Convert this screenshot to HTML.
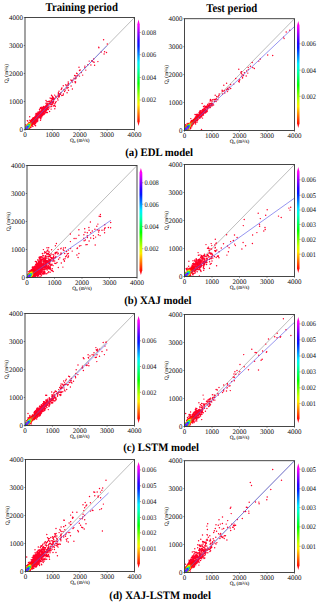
<!DOCTYPE html>
<html><head><meta charset="utf-8"><style>
html,body{margin:0;padding:0;background:#fff;width:320px;height:605px;overflow:hidden}
svg{display:block}
text{font-family:"Liberation Serif",serif;fill:#111;text-rendering:geometricPrecision}
.ti{font-weight:bold;font-size:11.3px;fill:#000}
.t1{font-size:12px}
.tk{font-size:7px;fill:#111;stroke:#111;stroke-width:0.03px}
.cb{font-size:7.1px;fill:#111;stroke:#111;stroke-width:0.03px}
.al{font-size:5.2px;fill:#000;stroke:#000;stroke-width:0.06px}
</style></head><body>
<svg width="320" height="605" viewBox="0 0 320 605">
<line x1="25.0" y1="129.5" x2="134.5" y2="17.5" stroke="#999" stroke-width="0.65"/><clipPath id="c1"><rect x="25.00" y="17.50" width="109.50" height="112.00"/></clipPath><g clip-path="url(#c1)" stroke-width="1.45" stroke-linecap="round" fill="none"><path stroke="#ff0029" d="M101.2 51.9h0M87.9 64.7h0M107.3 44.0h0M97.9 61.6h0M94.6 65.2h0M103.6 39.8h0M90.9 64.9h0M29.7 116.7h0M72.4 89.0h0M85.8 70.1h0M79.0 67.3h0M71.1 86.0h0M82.7 75.1h0M89.2 61.1h0M67.1 92.7h0M63.3 85.7h0M81.4 72.6h0M54.8 108.8h0M104.1 53.9h0M68.5 90.2h0M51.1 109.1h0M49.6 111.4h0M106.5 52.4h0M93.7 59.0h0M104.6 51.7h0M68.2 81.9h0M58.0 100.0h0M40.5 120.3h0M79.5 76.1h0M59.0 91.3h0M54.6 95.1h0M72.5 82.1h0M57.5 98.6h0M46.0 100.5h0M64.6 91.5h0M64.0 89.7h0M61.0 92.8h0M65.8 84.7h0M84.9 66.1h0M84.9 67.4h0M63.4 94.0h0M51.5 95.3h0M54.9 103.8h0M70.9 80.0h0M72.5 80.1h0M65.4 90.1h0M66.3 85.8h0M61.8 95.4h0M74.6 75.5h0M68.2 87.5h0M56.2 101.6h0M68.3 83.5h0M63.0 95.2h0M49.3 106.1h0M35.6 125.7h0M75.6 76.0h0M47.4 112.4h0M50.1 98.0h0M52.3 96.2h0M53.2 105.9h0M55.5 102.4h0M71.7 80.8h0M61.1 89.6h0M55.3 106.4h0M39.5 109.4h0M77.8 75.3h0M79.5 70.5h0M80.2 70.0h0M50.9 106.8h0M46.9 101.7h0M77.1 75.8h0M58.3 97.0h0M61.9 88.0h0M67.0 88.5h0M60.5 94.3h0M75.0 81.6h0M98.7 47.2h0M98.9 47.7h0M76.6 73.3h0M51.4 106.2h0M66.9 87.6h0M77.2 73.6h0M68.4 85.0h0M94.1 62.2h0M67.6 84.9h0M48.0 101.8h0M59.3 96.7h0M93.7 62.0h0M59.8 93.7h0M27.3 120.6h0M27.7 120.9h0M74.0 78.2h0M76.0 77.8h0M46.4 112.5h0M55.9 96.2h0M61.6 88.8h0M54.2 105.4h0M75.3 82.7h0M49.1 107.9h0M74.1 78.4h0M54.8 105.5h0M48.3 109.5h0M51.1 100.7h0M46.0 103.1h0M56.1 97.1h0M92.2 61.5h0M75.6 82.0h0M75.6 78.8h0M32.9 126.4h0M58.4 92.8h0M76.0 78.6h0M55.7 96.9h0M91.8 60.7h0M92.3 60.6h0M46.1 103.4h0M40.2 108.2h0M52.0 99.9h0M58.1 95.0h0M36.0 113.4h0M59.4 95.7h0M54.6 98.9h0M25.2 124.6h0M59.3 94.8h0M53.8 100.9h0M58.4 95.5h0M41.3 107.2h0M52.4 97.7h0M53.3 99.6h0M49.0 101.2h0M43.4 106.4h0M51.5 98.4h0M50.5 104.6h0M40.6 107.6h0M49.7 101.2h0M58.4 93.5h0M53.1 97.3h0M51.1 98.8h0M41.0 118.7h0M52.5 99.1h0M46.6 110.5h0M49.1 101.4h0M44.9 113.5h0M47.5 103.7h0M45.2 112.6h0M41.0 108.8h0M54.1 98.9h0M53.4 102.2h0M29.8 120.2h0M51.1 104.6h0M49.0 103.8h0M53.8 98.0h0M51.3 104.6h0M52.3 101.4h0M53.3 97.9h0M52.9 103.8h0M48.1 103.9h0M53.0 103.4h0M52.7 104.0h0M41.3 107.9h0M53.0 101.8h0M53.4 98.6h0M44.0 114.4h0M48.4 107.7h0M48.2 104.3h0M34.3 124.8h0M40.5 118.5h0M45.8 111.2h0M46.2 105.3h0M45.5 106.0h0M47.9 106.3h0M51.5 103.9h0M52.2 104.2h0M34.8 124.7h0M47.0 104.4h0M49.6 103.5h0M50.0 102.2h0M42.8 115.3h0M39.9 110.9h0M44.3 112.9h0M52.7 102.7h0M46.8 109.8h0M41.9 116.7h0M47.6 104.9h0M44.1 113.6h0M46.7 105.0h0M37.8 120.9h0M46.6 105.5h0M46.9 105.4h0M51.7 101.9h0M37.0 121.7h0M35.7 123.3h0M44.1 106.6h0M41.8 108.3h0M52.2 102.3h0M47.4 109.3h0M52.1 102.1h0M41.1 117.3h0M37.8 120.7h0M42.7 107.5h0M43.7 113.8h0M40.5 117.8h0M50.5 103.2h0M47.4 108.9h0M47.4 108.5h0M50.1 102.6h0M48.0 107.3h0M50.1 102.8h0M45.0 111.2h0M45.5 110.4h0M50.9 102.3h0M50.8 102.8h0M38.1 111.9h0M44.8 111.3h0M47.0 109.1h0M47.5 106.8h0M42.4 108.4h0M47.1 106.7h0M50.7 102.5h0M43.9 108.9h0M47.7 107.6h0M46.4 109.1h0M42.0 115.6h0M44.4 108.7h0M35.9 122.5h0M42.4 115.1h0M42.9 108.9h0M43.9 107.5h0M43.4 113.7h0M41.6 109.7h0M44.6 108.9h0M47.0 107.9h0M43.5 107.7h0M43.4 108.3h0M35.5 114.9h0M41.4 110.4h0M43.2 114.1h0M44.5 109.6h0M42.5 109.2h0M44.9 109.7h0M45.4 109.4h0M34.6 124.1h0M43.1 107.9h0M34.8 124.0h0M43.4 109.7h0M41.3 116.3h0M45.9 108.7h0M44.9 106.6h0M46.9 107.0h0M45.5 106.7h0M40.3 111.1h0M32.1 125.8h0M36.7 121.5h0M44.9 108.1h0M42.2 109.6h0M43.8 110.0h0M46.2 107.8h0M41.1 116.3h0M46.2 107.2h0M43.9 112.0h0M30.9 127.4h0M39.4 111.8h0M33.1 117.7h0M42.3 114.7h0M44.6 107.4h0M37.6 120.0h0M42.7 110.1h0M42.1 110.1h0M45.8 107.6h0M43.9 110.5h0M45.5 106.8h0M37.8 119.7h0M43.0 113.1h0M45.5 107.6h0M35.5 122.3h0M45.2 107.2h0M43.4 110.6h0M45.2 107.4h0M40.5 116.9h0M40.7 116.3h0M38.1 112.3h0M43.6 111.7h0M35.8 121.9h0M43.6 111.1h0M39.8 117.4h0M43.5 112.0h0M40.8 115.4h0M41.3 114.9h0M34.0 124.2h0M37.1 113.3h0M42.6 113.2h0M32.4 118.6h0M40.8 115.2h0M42.9 112.3h0M30.7 120.4h0M40.3 116.1h0M33.3 117.7h0M42.5 113.9h0M39.3 117.6h0M43.0 112.0h0M40.7 111.6h0M40.4 115.5h0M42.2 111.0h0M40.1 112.1h0M41.9 114.3h0M42.4 111.2h0M34.9 123.1h0M40.3 111.8h0M39.4 112.4h0M36.7 114.5h0M39.8 116.9h0M36.1 115.2h0M35.7 121.8h0M42.8 111.7h0M41.0 111.6h0M40.5 114.8h0M39.2 117.6h0M42.6 111.6h0M40.3 112.4h0M37.4 119.6h0M39.8 116.0h0M40.0 115.4h0M42.3 112.3h0M42.2 113.6h0M41.6 111.6h0M39.8 115.2h0M36.5 120.8h0M42.4 111.8h0M32.2 125.3h0M40.6 114.3h0M31.6 119.6h0M41.8 113.8h0M42.2 111.8h0M38.9 112.6h0M41.0 112.0h0M40.7 112.9h0M38.2 113.0h0M39.9 113.2h0M33.5 117.9h0M42.0 112.7h0M40.4 114.2h0M41.2 114.0h0M41.5 112.1h0M38.4 118.1h0M39.3 116.9h0M40.2 113.7h0M40.1 113.8h0M41.2 112.4h0M40.5 113.4h0M37.1 114.1h0M39.4 112.8h0M41.4 112.7h0M41.3 113.8h0M39.4 116.1h0M41.7 113.2h0M39.3 116.3h0M41.6 113.3h0M41.0 113.2h0M41.0 113.4h0M37.4 113.9h0M38.6 112.8h0M38.8 113.0h0M34.1 123.4h0M39.5 114.3h0M39.0 115.7h0M37.7 113.7h0M34.7 122.9h0M39.5 114.2h0M39.1 116.5h0M36.2 116.0h0M36.0 121.0h0M39.1 114.6h0M37.8 118.3h0M30.7 121.0h0M38.8 114.9h0M34.8 122.3h0M37.8 113.5h0M32.4 124.8h0M38.8 117.0h0M33.5 123.9h0M32.4 119.2h0M35.2 121.9h0M38.9 115.8h0M32.2 119.5h0M38.9 113.4h0M38.9 113.9h0M29.1 128.6h0M34.6 117.0h0M37.9 114.0h0M37.8 118.1h0M31.3 125.9h0M38.3 113.6h0M38.5 114.6h0M38.5 113.8h0M36.9 119.3h0M36.5 115.6h0M37.7 114.5h0M38.3 117.5h0M38.6 116.3h0M30.3 127.4h0M36.9 115.3h0M35.0 121.7h0M35.1 116.6h0M36.0 116.5h0M37.1 115.2h0M31.7 120.1h0M31.0 120.6h0M37.6 114.9h0M37.3 118.3h0M33.4 123.5h0M38.2 117.4h0M38.4 116.8h0M38.3 115.7h0M36.5 119.8h0M37.1 118.7h0M34.1 122.8h0M36.6 119.4h0M37.8 115.1h0M38.3 116.2h0M35.3 116.5h0M32.4 124.6h0M35.3 121.0h0M36.9 118.9h0M38.0 115.4h0M37.4 117.8h0M37.2 116.0h0M37.8 117.0h0M37.6 115.7h0M31.5 125.6h0M35.8 120.3h0M38.0 116.5h0M34.3 122.4h0M37.9 116.2h0M36.7 116.7h0M28.5 128.8h0M37.3 117.3h0M30.9 121.2h0M37.7 116.9h0M32.6 124.0h0M37.4 116.1h0M33.0 119.2h0M34.9 117.2h0M37.2 116.6h0M37.4 116.5h0M35.8 120.2h0M33.7 118.5h0M29.0 122.5h0M37.0 117.2h0M36.8 118.0h0M36.3 118.8h0M31.7 120.6h0M36.9 117.6h0M32.9 123.6h0M35.4 120.7h0M35.1 120.8h0M36.7 117.5h0M32.0 120.1h0M29.6 128.0h0M34.6 117.6h0M35.4 117.1h0M36.0 117.1h0M34.1 118.1h0M32.6 119.6h0M33.4 122.8h0M36.4 118.3h0M35.9 119.3h0M33.8 122.5h0M34.2 122.1h0M31.5 121.1h0M36.3 117.9h0M30.7 121.7h0M26.5 125.4h0M35.0 117.7h0M35.3 120.0h0M35.8 118.9h0M34.3 118.1h0M33.2 119.4h0M32.7 119.9h0M35.9 118.7h0M35.8 117.6h0M32.1 120.7h0M31.0 121.7h0M35.3 117.5h0M34.4 121.4h0"/><path stroke="#ff000e" d="M35.9 118.0h0M33.3 122.5h0M35.3 119.5h0M34.8 120.3h0M31.3 125.1h0M35.2 117.9h0M33.0 123.0h0M27.7 124.1h0M32.5 123.6h0M34.2 118.5h0M33.5 119.2h0M35.3 119.0h0M35.4 118.2h0M34.9 120.1h0M31.8 124.3h0M29.9 127.3h0M35.4 118.4h0M32.2 121.0h0M34.3 121.0h0M31.1 125.3h0M30.1 122.1h0M32.8 122.3h0M34.7 118.6h0M34.8 118.5h0M31.6 121.6h0M33.3 121.9h0M34.9 119.5h0M32.6 120.6h0M34.8 119.1h0M34.4 120.5h0M32.2 121.5h0M33.1 122.0h0M33.6 119.6h0M34.1 119.2h0M32.4 121.7h0M33.8 121.3h0M32.0 124.2h0M33.1 120.1h0M32.7 121.0h0M32.3 122.9h0M34.4 119.2h0M34.3 119.8h0M32.5 122.2h0M29.4 122.6h0M32.3 122.4h0M34.5 119.7h0M33.8 121.0h0M34.0 119.6h0M25.9 126.0h0M33.3 120.0h0M33.2 121.4h0M34.0 120.2h0M33.4 121.4h0M33.9 120.3h0M31.8 122.2h0M33.0 120.7h0M30.7 122.0h0M33.2 120.8h0M27.2 124.8h0M33.4 120.7h0M33.3 120.8h0M31.3 122.2h0M31.2 122.2h0M27.5 129.5h0M28.5 128.4h0M31.9 122.7h0M29.1 127.9h0M32.0 123.5h0M31.9 123.0h0"/><path stroke="#ff1200" d="M31.3 124.4h0M31.4 122.7h0M29.8 126.8h0M30.2 122.6h0M25.6 126.6h0M31.5 124.0h0M30.9 122.6h0"/><path stroke="#ff3300" d="M31.3 123.1h0M28.6 123.5h0M30.6 122.6h0M28.2 124.0h0M29.3 127.4h0M31.5 123.5h0M31.0 124.9h0"/><path stroke="#ff5300" d="M29.5 123.2h0M30.9 123.2h0M30.9 124.3h0M30.9 123.7h0M30.9 124.0h0M30.4 123.0h0M30.2 123.1h0"/><path stroke="#ff7300" d="M29.9 126.4h0M30.4 125.3h0M29.1 123.6h0"/><path stroke="#ff9400" d="M28.6 124.0h0M30.3 123.6h0M29.4 126.8h0M28.1 124.6h0"/><path stroke="#ffb400" d="M30.3 125.0h0M27.5 125.2h0M27.2 125.6h0M28.8 127.3h0M29.7 123.6h0M26.6 126.2h0M29.8 123.6h0M30.3 124.2h0M25.6 127.1h0M30.4 124.4h0M26.2 126.7h0M26.8 129.3h0"/><path stroke="#ffd500" d="M28.4 127.9h0M27.8 128.3h0M29.9 125.8h0"/><path stroke="#e8ff00" d="M29.2 124.0h0M29.9 124.0h0"/><path stroke="#cdff00" d="M29.5 124.2h0M29.3 126.3h0M29.8 125.3h0"/><path stroke="#adff00" d="M28.6 124.7h0M29.9 124.7h0M25.2 127.9h0M29.9 124.8h0"/><path stroke="#8dff00" d="M28.1 125.2h0M28.9 126.9h0M26.5 129.3h0"/><path stroke="#6cff00" d="M27.6 125.6h0"/><path stroke="#4cff00" d="M28.5 127.3h0M25.7 127.6h0M27.0 126.1h0M29.1 124.6h0M29.3 124.6h0"/><path stroke="#2bff00" d="M26.8 128.9h0M26.7 126.7h0M29.4 125.9h0"/><path stroke="#0bff00" d="M26.0 127.2h0M27.9 127.9h0M25.9 129.4h0M25.2 129.4h0"/><path stroke="#00ff16" d="M27.4 128.3h0M25.7 129.4h0M29.4 125.1h0"/><path stroke="#00ff36" d="M29.4 125.3h0M28.7 125.1h0"/><path stroke="#00ff56" d="M28.9 126.3h0M28.9 125.1h0M25.2 128.5h0M25.2 128.9h0"/><path stroke="#00ff76" d="M28.1 125.5h0"/><path stroke="#00ffb1" d="M25.7 128.0h0M28.5 126.9h0M25.5 128.8h0M26.3 128.9h0M28.8 125.8h0"/><path stroke="#00ffd2" d="M28.8 125.7h0M27.7 126.2h0M28.5 125.7h0"/><path stroke="#00fff2" d="M26.0 128.8h0M25.5 128.7h0"/><path stroke="#00ecff" d="M27.9 127.4h0M27.1 126.5h0"/><path stroke="#00aaff" d="M28.4 126.4h0M28.4 126.2h0M26.2 127.5h0M28.2 126.1h0"/><path stroke="#008aff" d="M26.6 127.1h0M27.0 128.3h0M27.3 127.8h0"/><path stroke="#0028ff" d="M27.9 126.8h0M27.8 126.7h0M27.6 126.7h0"/><path stroke="#000dff" d="M26.1 128.5h0"/><path stroke="#1400ff" d="M26.1 128.1h0M26.4 128.4h0"/><path stroke="#5500ff" d="M27.2 127.1h0M27.4 127.3h0M27.5 127.0h0"/><path stroke="#9600ff" d="M26.6 127.7h0"/><path stroke="#b700ff" d="M26.9 127.9h0M26.7 127.9h0M26.9 127.7h0"/></g><line x1="25.0" y1="129.5" x2="107.1" y2="45.5" stroke="#5c5ce8" stroke-width="0.65"/><rect x="25.0" y="17.5" width="109.5" height="112.0" fill="none" stroke="#333" stroke-width="0.9"/><line x1="25.0" y1="129.5" x2="25.0" y2="130.7" stroke="#333" stroke-width="0.6"/><line x1="23.8" y1="129.5" x2="25.0" y2="129.5" stroke="#333" stroke-width="0.6"/><text x="25.0" y="136.6" text-anchor="middle" class="tk">0</text><text x="23.0" y="131.8" text-anchor="end" class="tk">0</text><line x1="52.4" y1="129.5" x2="52.4" y2="130.7" stroke="#333" stroke-width="0.6"/><line x1="23.8" y1="101.5" x2="25.0" y2="101.5" stroke="#333" stroke-width="0.6"/><text x="52.4" y="136.6" text-anchor="middle" class="tk">1000</text><text x="23.0" y="103.8" text-anchor="end" class="tk">1000</text><line x1="79.8" y1="129.5" x2="79.8" y2="130.7" stroke="#333" stroke-width="0.6"/><line x1="23.8" y1="73.5" x2="25.0" y2="73.5" stroke="#333" stroke-width="0.6"/><text x="79.8" y="136.6" text-anchor="middle" class="tk">2000</text><text x="23.0" y="75.8" text-anchor="end" class="tk">2000</text><line x1="107.1" y1="129.5" x2="107.1" y2="130.7" stroke="#333" stroke-width="0.6"/><line x1="23.8" y1="45.5" x2="25.0" y2="45.5" stroke="#333" stroke-width="0.6"/><text x="107.1" y="136.6" text-anchor="middle" class="tk">3000</text><text x="23.0" y="47.8" text-anchor="end" class="tk">3000</text><line x1="134.5" y1="129.5" x2="134.5" y2="130.7" stroke="#333" stroke-width="0.6"/><line x1="23.8" y1="17.5" x2="25.0" y2="17.5" stroke="#333" stroke-width="0.6"/><text x="134.5" y="136.6" text-anchor="middle" class="tk">4000</text><text x="23.0" y="19.8" text-anchor="end" class="tk">4000</text><text x="79.8" y="142.0" text-anchor="middle" class="al">Q<tspan font-size="3.4" dy="0.9">o</tspan><tspan dy="-0.9"> (m</tspan><tspan font-size="3.4" dy="-1.2">3</tspan><tspan dy="1.2">/s)</tspan></text><text transform="translate(8.2 73.5) rotate(-90)" text-anchor="middle" class="al">Q<tspan font-size="3.4" dy="0.9">s</tspan><tspan dy="-0.9"> (m</tspan><tspan font-size="3.4" dy="-1.2">3</tspan><tspan dy="1.2">/s)</tspan></text><linearGradient id="g0" x1="0" y1="0" x2="0" y2="1"><stop offset="0.000" stop-color="#ff00bf"/><stop offset="0.050" stop-color="#fe00ff"/><stop offset="0.100" stop-color="#b700ff"/><stop offset="0.150" stop-color="#7000ff"/><stop offset="0.200" stop-color="#2a00ff"/><stop offset="0.250" stop-color="#0018ff"/><stop offset="0.300" stop-color="#005eff"/><stop offset="0.350" stop-color="#00a5ff"/><stop offset="0.400" stop-color="#00ecff"/><stop offset="0.450" stop-color="#00ffcc"/><stop offset="0.500" stop-color="#00ff8c"/><stop offset="0.550" stop-color="#00ff46"/><stop offset="0.600" stop-color="#00ff00"/><stop offset="0.650" stop-color="#46ff00"/><stop offset="0.700" stop-color="#8dff00"/><stop offset="0.750" stop-color="#cdff00"/><stop offset="0.800" stop-color="#ffea00"/><stop offset="0.850" stop-color="#ffa400"/><stop offset="0.900" stop-color="#ff5e00"/><stop offset="0.950" stop-color="#ff1800"/><stop offset="1.000" stop-color="#ff0029"/></linearGradient><path d="M138.50 19.40L139.70 24.25L139.70 121.15L138.50 126.00L137.30 121.15L137.30 24.25Z" fill="url(#g0)"/><line x1="139.7" y1="32.5" x2="140.7" y2="32.5" stroke="#333" stroke-width="0.5"/><text x="141.8" y="34.9" class="cb" textLength="14.4" lengthAdjust="spacingAndGlyphs">0.008</text><line x1="139.7" y1="54.7" x2="140.7" y2="54.7" stroke="#333" stroke-width="0.5"/><text x="141.8" y="57.1" class="cb" textLength="14.4" lengthAdjust="spacingAndGlyphs">0.006</text><line x1="139.7" y1="77.5" x2="140.7" y2="77.5" stroke="#333" stroke-width="0.5"/><text x="141.8" y="79.9" class="cb" textLength="14.4" lengthAdjust="spacingAndGlyphs">0.004</text><line x1="139.7" y1="100.0" x2="140.7" y2="100.0" stroke="#333" stroke-width="0.5"/><text x="141.8" y="102.4" class="cb" textLength="14.4" lengthAdjust="spacingAndGlyphs">0.002</text><line x1="184.5" y1="130.5" x2="294.5" y2="18.7" stroke="#999" stroke-width="0.65"/><clipPath id="c2"><rect x="184.50" y="18.70" width="110.00" height="111.80"/></clipPath><g clip-path="url(#c2)" stroke-width="1.45" stroke-linecap="round" fill="none"><path stroke="#ff0029" d="M267.7 55.0h0M235.7 78.5h0M272.7 55.4h0M252.2 62.5h0M286.2 32.1h0M289.8 30.3h0M233.8 84.1h0M238.8 69.2h0M202.1 103.4h0M223.8 85.3h0M226.6 83.3h0M230.6 84.5h0M222.5 94.0h0M246.2 76.0h0M260.3 59.0h0M258.8 61.1h0M250.4 66.2h0M244.4 72.7h0M247.8 73.1h0M201.5 129.5h0M246.6 71.0h0M248.2 67.5h0M248.3 69.6h0M254.3 68.5h0M224.8 92.9h0M252.8 67.4h0M227.5 91.6h0M215.2 95.2h0M219.2 93.9h0M190.8 118.6h0M230.7 88.4h0M284.1 38.6h0M283.6 37.1h0M217.8 99.8h0M241.4 76.1h0M218.9 95.5h0M224.5 90.7h0M216.7 96.4h0M202.5 118.1h0M241.5 73.8h0M229.3 87.3h0M218.2 97.0h0M216.1 101.4h0M212.3 99.7h0M212.0 101.2h0M214.6 101.4h0M210.4 99.4h0M226.3 89.8h0M241.6 71.7h0M243.5 75.5h0M239.8 79.8h0M213.6 105.0h0M195.6 124.0h0M242.9 74.8h0M240.9 72.2h0M203.5 106.5h0M239.3 82.1h0M195.0 114.5h0M228.7 89.6h0M223.0 91.3h0M210.1 100.9h0M222.1 90.3h0M242.5 77.9h0M238.6 81.3h0M242.6 77.3h0M227.9 88.2h0M204.5 105.9h0M210.8 100.5h0M239.2 80.7h0M197.2 122.1h0M222.1 91.1h0M216.1 99.5h0M213.9 99.4h0M209.0 103.3h0M227.7 89.6h0M185.4 124.8h0M187.2 123.4h0M227.4 88.6h0M215.2 99.8h0M216.3 98.6h0M211.7 103.1h0M214.4 99.5h0M191.8 126.8h0M212.8 103.8h0M210.5 103.5h0M211.9 106.1h0M190.7 128.5h0M212.2 105.5h0M207.2 111.5h0M207.8 108.8h0M207.9 104.4h0M210.0 104.2h0M207.4 110.0h0M202.5 109.5h0M209.5 104.0h0M196.2 114.6h0M212.3 104.3h0M211.6 105.0h0M207.7 104.5h0M201.2 110.6h0M211.7 104.1h0M211.8 103.8h0M208.1 108.3h0M196.2 114.9h0M189.9 129.1h0M208.6 106.6h0M210.9 105.5h0M206.7 111.7h0M199.6 111.1h0M197.0 114.3h0M203.5 115.0h0M206.1 106.3h0M209.5 107.6h0M209.9 107.8h0M205.4 106.6h0M208.1 107.4h0M210.4 107.3h0M210.1 105.4h0M206.8 110.4h0M209.2 105.2h0M205.9 112.6h0M208.3 105.2h0M210.4 105.7h0M204.3 108.0h0M209.1 105.9h0M199.1 112.5h0M210.1 106.0h0M200.0 110.9h0M209.4 105.7h0M208.1 105.5h0M206.7 108.1h0M210.0 107.3h0M210.0 106.9h0M202.5 110.2h0M191.4 120.4h0M205.3 112.9h0M200.3 110.8h0M195.8 122.4h0M207.4 105.6h0M205.1 107.8h0M206.4 110.2h0M207.5 107.9h0M207.2 106.0h0M204.7 108.3h0M205.5 107.2h0M202.8 115.0h0M205.8 111.5h0M207.3 107.1h0M197.4 120.5h0M207.2 106.8h0M205.4 112.6h0M199.2 113.2h0M205.9 107.6h0M205.6 111.2h0M205.7 107.4h0M206.8 107.6h0M206.6 107.4h0M203.8 113.5h0M201.2 117.0h0M205.7 111.5h0M195.4 122.5h0M202.8 111.1h0M200.3 111.3h0M205.7 109.2h0M203.1 114.5h0M196.8 120.8h0M204.3 112.8h0M203.8 108.7h0M203.9 108.8h0M203.7 109.1h0M198.2 119.6h0M200.2 111.8h0M205.0 112.4h0M200.8 111.6h0M204.8 112.0h0M197.7 114.5h0M203.8 113.0h0M197.5 120.1h0M199.9 112.6h0M204.0 112.2h0M205.5 109.5h0M205.3 110.0h0M201.8 116.3h0M199.1 113.9h0M195.3 117.2h0M203.7 110.8h0M199.9 112.8h0M202.0 115.4h0M200.5 112.7h0M203.6 110.3h0M201.1 112.1h0M204.3 111.1h0M201.3 116.5h0M202.4 111.6h0M205.1 109.6h0M204.0 109.6h0M200.3 117.2h0M203.5 112.0h0M201.8 116.0h0M204.7 110.0h0M203.9 110.8h0M204.0 109.9h0M201.5 111.8h0M199.5 113.3h0M201.6 114.0h0M203.9 110.4h0M200.1 117.9h0M204.5 110.4h0M199.3 118.3h0M200.7 113.1h0M185.4 126.2h0M198.7 114.6h0M197.5 115.0h0M192.4 125.0h0M203.4 112.3h0M200.1 117.6h0M192.2 120.4h0M202.8 113.9h0M197.8 114.7h0M200.3 116.6h0M202.2 111.7h0M196.1 116.4h0M201.7 116.1h0M201.0 116.4h0M191.5 121.1h0M200.7 116.2h0M200.6 113.7h0M190.6 127.2h0M199.6 113.8h0M201.7 113.3h0M203.2 112.4h0M200.1 113.7h0M202.4 113.9h0M201.4 115.5h0M203.1 112.9h0M200.9 114.7h0M197.3 119.7h0M199.3 118.0h0M196.5 116.2h0M202.5 112.2h0M198.9 114.8h0M202.8 112.2h0M201.1 115.6h0M201.8 113.0h0M200.1 116.2h0M202.1 112.3h0M200.5 114.4h0M184.9 126.9h0M194.3 122.8h0M202.6 112.6h0M188.7 123.4h0M197.0 116.0h0M199.6 114.5h0M202.3 112.8h0M200.3 115.4h0M193.5 123.9h0M199.3 115.0h0M200.0 114.5h0M196.0 116.9h0M196.4 116.5h0M200.2 114.9h0M194.9 118.1h0M199.5 115.6h0M195.3 121.6h0M192.6 120.3h0M198.4 115.2h0M195.6 117.7h0M196.6 120.1h0M194.5 118.7h0M199.4 117.6h0M194.3 122.6h0M197.9 115.5h0M197.4 116.0h0M199.3 116.1h0M195.8 120.8h0M197.8 118.3h0M199.4 116.4h0M199.3 117.0h0M191.3 125.6h0M190.6 122.2h0M191.4 121.6h0M199.0 115.8h0M198.1 115.9h0M197.3 118.8h0"/><path stroke="#ff000e" d="M196.4 117.2h0M186.5 125.3h0M199.2 117.3h0M197.7 116.4h0M196.8 117.0h0M192.1 121.0h0M196.1 117.6h0M198.3 115.7h0M197.8 117.8h0M197.3 118.6h0M195.1 121.3h0M193.7 119.5h0M194.7 121.8h0M191.1 121.8h0M199.1 116.8h0M194.1 119.1h0M188.4 129.5h0M198.2 117.5h0M197.6 117.3h0M197.7 117.2h0M187.8 130.0h0M197.0 117.7h0M197.0 117.8h0M198.6 117.4h0M196.6 117.7h0M193.4 123.3h0M195.3 120.8h0M198.7 116.2h0M192.4 121.2h0M196.9 118.8h0M191.9 124.9h0M198.5 116.6h0M198.0 116.8h0M198.4 116.8h0M195.1 118.6h0M196.7 118.3h0M195.4 120.7h0M185.6 126.5h0M195.2 120.8h0M195.5 118.2h0M192.8 120.7h0M193.0 120.9h0M196.5 118.9h0M193.6 120.0h0M196.3 119.3h0M195.8 118.2h0M194.5 119.4h0M195.9 119.8h0M190.9 125.9h0M194.1 119.6h0M194.2 121.8h0M194.4 121.3h0M192.2 121.5h0M192.8 123.6h0M195.7 118.5h0M196.0 118.7h0M187.6 124.5h0M190.2 127.4h0M192.3 124.1h0M192.6 121.3h0M192.1 124.3h0M195.3 119.8h0M187.4 130.3h0M195.9 119.4h0M194.8 120.3h0M195.2 119.2h0M193.3 122.9h0M196.0 119.2h0M195.1 119.6h0M194.0 120.0h0"/><path stroke="#ff1200" d="M195.0 119.9h0M195.4 119.4h0M195.7 119.0h0M190.0 123.1h0M194.0 121.6h0M194.5 120.6h0M194.5 120.1h0M193.7 120.7h0M194.2 120.9h0M194.0 120.3h0M193.6 122.2h0M193.7 121.2h0M193.4 121.4h0M193.3 122.4h0M193.1 121.7h0M193.1 122.0h0M192.8 122.8h0M187.4 125.1h0M191.6 122.2h0M188.5 124.0h0M192.7 122.0h0"/><path stroke="#ff3300" d="M188.0 129.6h0M192.9 122.3h0M190.3 123.1h0M191.9 124.1h0M192.2 122.2h0M190.8 122.7h0M192.3 123.3h0M191.3 122.5h0M189.7 123.6h0M186.1 126.7h0M190.4 126.0h0M192.4 122.7h0M192.4 122.8h0M190.8 124.8h0M191.8 122.6h0M186.6 126.1h0M191.3 124.4h0"/><path stroke="#ff5300" d="M188.9 128.3h0M187.0 125.7h0M191.8 122.8h0M186.9 130.4h0M191.9 123.3h0M189.1 124.1h0M191.6 123.2h0M190.4 125.6h0"/><path stroke="#ff7300" d="M191.3 123.9h0M190.9 124.3h0M191.1 123.2h0M191.3 123.7h0M190.7 123.5h0M191.0 123.5h0M190.0 123.7h0M190.9 123.8h0M189.8 126.8h0"/><path stroke="#ff9400" d="M190.5 124.9h0M188.2 124.7h0M188.4 128.5h0M189.1 127.8h0M190.4 124.2h0M190.3 124.3h0M184.7 128.3h0"/><path stroke="#ffb400" d="M187.9 129.2h0M190.2 124.2h0M188.7 124.6h0M189.7 124.2h0"/><path stroke="#ffd500" d="M190.0 124.5h0M186.1 127.0h0M185.6 127.6h0M189.3 127.3h0M189.9 126.3h0"/><path stroke="#fff500" d="M186.7 130.1h0M186.3 130.4h0M189.2 124.5h0M189.9 124.9h0M187.1 126.1h0M186.8 129.9h0"/><path stroke="#e8ff00" d="M187.3 129.3h0M189.9 125.7h0M189.9 125.8h0"/><path stroke="#adff00" d="M189.3 124.7h0M186.1 130.3h0"/><path stroke="#8dff00" d="M188.1 125.2h0M187.2 126.4h0M188.6 127.8h0M187.7 125.7h0"/><path stroke="#6cff00" d="M189.4 126.8h0M187.0 129.3h0M189.4 125.2h0"/><path stroke="#4cff00" d="M187.3 129.1h0M185.2 128.6h0"/><path stroke="#2bff00" d="M185.4 128.2h0"/><path stroke="#0bff00" d="M186.4 127.2h0M186.2 127.6h0M188.2 125.7h0M188.8 127.3h0"/><path stroke="#00ff16" d="M187.7 126.0h0M187.8 128.4h0M188.6 125.2h0"/><path stroke="#00ff36" d="M189.5 126.3h0M189.3 125.6h0M189.1 125.2h0"/><path stroke="#00ff56" d="M189.4 125.8h0M185.4 130.3h0"/><path stroke="#00ff76" d="M184.7 130.3h0M184.9 130.4h0"/><path stroke="#00ff91" d="M184.7 129.5h0"/><path stroke="#00ffb1" d="M184.7 129.8h0M185.2 129.2h0"/><path stroke="#00fff2" d="M185.8 129.9h0"/><path stroke="#00ecff" d="M188.5 125.7h0M189.0 126.8h0M185.1 129.9h0"/><path stroke="#00cbff" d="M185.2 129.6h0M185.4 129.9h0M188.8 125.7h0M188.1 126.0h0"/><path stroke="#00aaff" d="M188.3 127.4h0M188.0 127.9h0"/><path stroke="#008aff" d="M186.3 129.3h0"/><path stroke="#0069ff" d="M189.0 126.2h0M188.8 126.4h0M187.5 128.4h0"/><path stroke="#0049ff" d="M185.7 128.7h0M186.8 128.8h0"/><path stroke="#0028ff" d="M187.1 127.2h0"/><path stroke="#000dff" d="M187.6 126.7h0M185.7 129.3h0M185.6 129.2h0M188.4 126.2h0M186.5 127.7h0"/><path stroke="#1400ff" d="M186.1 128.2h0M185.8 129.4h0"/><path stroke="#3400ff" d="M188.4 126.8h0M188.3 126.5h0"/><path stroke="#5500ff" d="M187.9 127.4h0"/><path stroke="#7600ff" d="M188.1 126.7h0M187.4 127.9h0M187.6 127.2h0M187.8 127.1h0M187.5 127.5h0"/><path stroke="#9600ff" d="M187.1 127.7h0M186.5 128.8h0M186.0 128.7h0M186.0 128.8h0"/><path stroke="#b700ff" d="M187.0 128.3h0M186.8 128.0h0M186.7 128.2h0M186.7 128.4h0"/></g><line x1="184.5" y1="130.5" x2="294.5" y2="26.5" stroke="#5c5ce8" stroke-width="0.65"/><rect x="184.5" y="18.7" width="110.0" height="111.8" fill="none" stroke="#333" stroke-width="0.9"/><line x1="184.5" y1="130.5" x2="184.5" y2="131.7" stroke="#333" stroke-width="0.6"/><line x1="183.3" y1="130.5" x2="184.5" y2="130.5" stroke="#333" stroke-width="0.6"/><text x="184.5" y="137.6" text-anchor="middle" class="tk">0</text><text x="182.5" y="132.8" text-anchor="end" class="tk">0</text><line x1="212.0" y1="130.5" x2="212.0" y2="131.7" stroke="#333" stroke-width="0.6"/><line x1="183.3" y1="102.5" x2="184.5" y2="102.5" stroke="#333" stroke-width="0.6"/><text x="212.0" y="137.6" text-anchor="middle" class="tk">1000</text><text x="182.5" y="104.8" text-anchor="end" class="tk">1000</text><line x1="239.5" y1="130.5" x2="239.5" y2="131.7" stroke="#333" stroke-width="0.6"/><line x1="183.3" y1="74.6" x2="184.5" y2="74.6" stroke="#333" stroke-width="0.6"/><text x="239.5" y="137.6" text-anchor="middle" class="tk">2000</text><text x="182.5" y="76.9" text-anchor="end" class="tk">2000</text><line x1="267.0" y1="130.5" x2="267.0" y2="131.7" stroke="#333" stroke-width="0.6"/><line x1="183.3" y1="46.7" x2="184.5" y2="46.7" stroke="#333" stroke-width="0.6"/><text x="267.0" y="137.6" text-anchor="middle" class="tk">3000</text><text x="182.5" y="49.0" text-anchor="end" class="tk">3000</text><line x1="294.5" y1="130.5" x2="294.5" y2="131.7" stroke="#333" stroke-width="0.6"/><line x1="183.3" y1="18.7" x2="184.5" y2="18.7" stroke="#333" stroke-width="0.6"/><text x="294.5" y="137.6" text-anchor="middle" class="tk">4000</text><text x="182.5" y="21.0" text-anchor="end" class="tk">4000</text><text x="239.5" y="143.0" text-anchor="middle" class="al">Q<tspan font-size="3.4" dy="0.9">o</tspan><tspan dy="-0.9"> (m</tspan><tspan font-size="3.4" dy="-1.2">3</tspan><tspan dy="1.2">/s)</tspan></text><text transform="translate(167.7 74.6) rotate(-90)" text-anchor="middle" class="al">Q<tspan font-size="3.4" dy="0.9">s</tspan><tspan dy="-0.9"> (m</tspan><tspan font-size="3.4" dy="-1.2">3</tspan><tspan dy="1.2">/s)</tspan></text><linearGradient id="g1" x1="0" y1="0" x2="0" y2="1"><stop offset="0.000" stop-color="#ff00bf"/><stop offset="0.050" stop-color="#fe00ff"/><stop offset="0.100" stop-color="#b700ff"/><stop offset="0.150" stop-color="#7000ff"/><stop offset="0.200" stop-color="#2a00ff"/><stop offset="0.250" stop-color="#0018ff"/><stop offset="0.300" stop-color="#005eff"/><stop offset="0.350" stop-color="#00a5ff"/><stop offset="0.400" stop-color="#00ecff"/><stop offset="0.450" stop-color="#00ffcc"/><stop offset="0.500" stop-color="#00ff8c"/><stop offset="0.550" stop-color="#00ff46"/><stop offset="0.600" stop-color="#00ff00"/><stop offset="0.650" stop-color="#46ff00"/><stop offset="0.700" stop-color="#8dff00"/><stop offset="0.750" stop-color="#cdff00"/><stop offset="0.800" stop-color="#ffea00"/><stop offset="0.850" stop-color="#ffa400"/><stop offset="0.900" stop-color="#ff5e00"/><stop offset="0.950" stop-color="#ff1800"/><stop offset="1.000" stop-color="#ff0029"/></linearGradient><path d="M298.25 21.00L299.50 25.86L299.50 123.14L298.25 128.00L297.00 123.14L297.00 25.86Z" fill="url(#g1)"/><line x1="299.5" y1="43.8" x2="300.5" y2="43.8" stroke="#333" stroke-width="0.5"/><text x="301.6" y="46.2" class="cb" textLength="14.4" lengthAdjust="spacingAndGlyphs">0.006</text><line x1="299.5" y1="70.2" x2="300.5" y2="70.2" stroke="#333" stroke-width="0.5"/><text x="301.6" y="72.6" class="cb" textLength="14.4" lengthAdjust="spacingAndGlyphs">0.004</text><line x1="299.5" y1="96.3" x2="300.5" y2="96.3" stroke="#333" stroke-width="0.5"/><text x="301.6" y="98.7" class="cb" textLength="14.4" lengthAdjust="spacingAndGlyphs">0.002</text><line x1="27.0" y1="277.5" x2="137.0" y2="165.5" stroke="#999" stroke-width="0.65"/><clipPath id="c3"><rect x="27.00" y="165.50" width="110.00" height="112.00"/></clipPath><g clip-path="url(#c3)" stroke-width="1.45" stroke-linecap="round" fill="none"><path stroke="#ff0029" d="M84.7 228.7h0M110.7 222.4h0M78.9 229.8h0M58.3 267.5h0M62.9 267.1h0M90.4 221.9h0M104.8 224.8h0M70.4 233.9h0M70.4 241.6h0M78.9 235.3h0M95.2 244.9h0M89.1 240.9h0M88.9 227.5h0M61.3 262.9h0M90.7 238.0h0M51.6 249.8h0M72.2 251.1h0M89.1 230.3h0M78.1 257.4h0M83.9 234.7h0M58.1 249.4h0M55.4 245.8h0M56.4 243.4h0M64.7 253.4h0M93.4 235.6h0M43.4 249.6h0M94.9 229.2h0M104.6 232.7h0M70.6 248.6h0M92.3 231.0h0M97.9 224.1h0M96.8 226.3h0M90.7 232.8h0M78.9 253.5h0M85.0 232.2h0M87.3 232.8h0M76.9 255.0h0M93.6 238.5h0M95.6 237.1h0M110.6 227.8h0M108.4 227.4h0M68.5 250.1h0M66.6 251.4h0M102.0 230.2h0M83.8 238.3h0M76.0 238.5h0M74.1 238.4h0M65.4 247.7h0M87.4 237.5h0M87.3 235.7h0M100.4 214.4h0M100.1 235.6h0M98.4 234.8h0M59.8 257.8h0M58.6 259.2h0M57.0 262.4h0M48.7 247.7h0M47.0 247.8h0M98.7 231.9h0M63.5 248.0h0M65.0 258.8h0M65.6 256.8h0M63.5 259.2h0M84.1 240.7h0M50.1 272.2h0M52.3 268.8h0M85.4 240.0h0M66.5 255.7h0M51.2 253.9h0M53.1 265.6h0M87.2 244.6h0M80.9 245.6h0M86.0 244.8h0M79.5 245.9h0M99.2 216.3h0M46.7 273.7h0M100.5 216.5h0M60.4 254.5h0M99.2 230.2h0M68.3 253.4h0M54.7 260.9h0M47.9 249.9h0M48.9 251.4h0M55.9 256.5h0M67.3 254.0h0M61.0 253.0h0M53.0 254.5h0M63.9 250.4h0M54.8 263.3h0M63.2 249.7h0M55.9 263.5h0M47.9 272.7h0M53.9 255.1h0M48.7 271.8h0M68.5 255.9h0M35.4 261.5h0M53.2 271.4h0M61.3 253.8h0M57.8 254.0h0M50.8 269.4h0M60.8 248.8h0M61.2 248.1h0M58.3 253.2h0M48.1 258.5h0M51.4 270.5h0M67.9 257.6h0M41.0 275.9h0M77.1 248.4h0M77.5 248.0h0M105.1 227.8h0M97.3 229.6h0M53.6 256.5h0M43.6 255.7h0M49.1 252.7h0M104.7 228.5h0M42.8 255.6h0M64.4 261.2h0M37.8 259.6h0M42.4 253.5h0M50.5 265.6h0M55.4 257.4h0M64.2 260.6h0M52.4 270.8h0M42.7 253.8h0M50.3 266.9h0M98.0 230.1h0M41.6 275.1h0M52.7 261.0h0M36.4 261.7h0M68.1 256.9h0M37.8 277.0h0M53.5 259.8h0M54.5 257.9h0M53.4 261.1h0M47.9 256.7h0M47.2 250.9h0M39.9 276.9h0M46.9 251.3h0M44.4 253.1h0M104.2 229.9h0M55.4 253.8h0M41.6 256.6h0M50.5 268.2h0M49.5 259.1h0M53.0 257.4h0M37.9 260.4h0M52.0 264.1h0M42.7 257.3h0M48.4 256.7h0M47.2 270.0h0M55.3 252.5h0M28.3 271.6h0M49.5 269.1h0M50.6 264.2h0M52.3 258.8h0M57.2 252.1h0M49.3 256.5h0M50.6 255.6h0M51.7 265.0h0M53.7 258.0h0M48.5 265.7h0M55.1 253.4h0M44.7 251.8h0M40.9 274.3h0M39.4 277.3h0M53.1 258.9h0M47.0 269.7h0M48.9 264.9h0M40.7 256.7h0M45.2 273.7h0M45.8 252.5h0M56.6 252.1h0M47.0 254.8h0M52.0 264.7h0M48.5 259.6h0M56.4 252.7h0M46.5 253.3h0M39.3 260.0h0M50.2 256.1h0M48.9 254.4h0M51.3 258.2h0M50.6 257.3h0M49.9 255.0h0M50.6 259.7h0M46.4 258.1h0M51.5 257.7h0M49.1 266.5h0M49.7 254.9h0M41.2 257.6h0M48.4 253.4h0M45.5 255.7h0M45.3 252.1h0M44.9 252.6h0M38.0 276.2h0M50.8 257.5h0M32.3 267.2h0M44.9 272.8h0M51.2 259.9h0M48.1 268.7h0M35.8 277.3h0M47.3 253.5h0M48.8 266.8h0M47.9 267.2h0M48.4 254.0h0M44.9 271.9h0M43.1 274.3h0M38.3 261.3h0M46.2 256.4h0M50.3 261.2h0M49.4 268.0h0M44.3 257.9h0M47.0 254.3h0M44.4 273.8h0M40.1 274.2h0M49.7 260.3h0M44.6 271.7h0M39.4 256.9h0M37.0 262.7h0M43.0 271.0h0M49.5 264.0h0M51.0 260.7h0M45.2 257.7h0M47.0 254.1h0M39.9 260.2h0M43.9 272.0h0M36.7 262.8h0M47.3 268.1h0M45.7 256.8h0M48.9 268.4h0M44.6 270.1h0M45.3 256.2h0M42.3 258.9h0M44.1 271.6h0M48.6 267.9h0M41.3 259.1h0M45.3 256.4h0M46.4 268.6h0M38.7 275.3h0M40.9 259.1h0M33.1 266.7h0M47.6 260.7h0M46.9 267.6h0M47.1 266.5h0M49.8 262.5h0M40.8 259.4h0M46.5 268.1h0M42.5 260.0h0M38.8 261.4h0M42.9 270.6h0M45.9 258.4h0M43.1 272.7h0M45.9 268.3h0M39.8 258.4h0M40.3 257.7h0M43.9 273.5h0M43.6 258.5h0M36.8 263.2h0M45.1 269.3h0M45.5 268.9h0M49.5 262.0h0M42.8 273.9h0M40.5 260.3h0M45.8 258.9h0M49.5 263.3h0M38.6 262.2h0M39.3 258.2h0M43.1 258.6h0M39.0 257.6h0M42.7 273.6h0M41.4 260.1h0M48.5 263.2h0M48.6 263.3h0M43.5 258.8h0M46.5 266.7h0M42.0 261.9h0M47.3 261.0h0M47.1 265.3h0M39.6 257.3h0M48.9 263.3h0M42.9 273.3h0M40.2 273.3h0M39.9 257.8h0M46.5 260.6h0M41.9 261.6h0M48.0 262.6h0M48.8 260.8h0M45.0 258.6h0M41.5 260.6h0M43.8 264.9h0M45.4 267.6h0M45.7 259.3h0M49.2 261.6h0M43.5 260.3h0M48.5 260.8h0M44.2 265.6h0M49.0 261.8h0M43.9 259.5h0M43.7 260.9h0M44.3 269.7h0M45.8 260.2h0M46.7 261.8h0M44.5 266.1h0M47.3 262.3h0M43.5 261.8h0M47.0 262.0h0M47.4 261.9h0M45.9 262.2h0M48.1 261.9h0M41.6 263.1h0M48.0 261.7h0M41.4 261.4h0M40.6 261.2h0M37.0 275.8h0M45.8 260.9h0M45.3 264.8h0M45.3 260.1h0M43.9 261.1h0M44.4 260.4h0M43.6 265.5h0M44.1 264.0h0M38.9 274.5h0M44.6 259.6h0M43.3 263.5h0M45.5 260.3h0M43.7 263.8h0M45.4 265.3h0M45.6 261.4h0M35.6 276.6h0M43.1 263.7h0M33.5 267.1h0M35.9 264.1h0M45.7 263.0h0M35.6 264.7h0M45.5 261.9h0M43.9 263.0h0M43.8 262.5h0M44.3 269.2h0M34.0 277.1h0M46.3 265.8h0M37.5 263.5h0M44.5 267.0h0M44.6 263.7h0M43.9 269.3h0M46.9 264.4h0M45.4 264.5h0M46.8 264.2h0M44.8 263.9h0M45.4 265.8h0M44.1 269.2h0M45.9 266.3h0M37.2 275.6h0M44.3 261.2h0M38.3 263.1h0M45.2 261.6h0M45.4 266.5h0M34.7 266.1h0M29.8 270.7h0M40.8 262.2h0M46.4 265.0h0M43.8 267.1h0M39.8 261.6h0M46.7 263.3h0M46.4 263.0h0M42.0 272.9h0M44.4 262.3h0M39.6 261.9h0M44.2 268.4h0M45.9 265.9h0M44.3 267.3h0M44.6 261.4h0M44.1 261.8h0M32.5 268.1h0M40.9 272.7h0M38.4 274.7h0M43.4 266.2h0M43.1 269.5h0M35.9 264.4h0M44.4 262.1h0M40.5 272.5h0M44.0 268.0h0M39.0 262.9h0M41.9 270.6h0M40.6 261.8h0M45.6 263.7h0M43.0 265.2h0M39.9 261.9h0M42.1 263.6h0M36.5 264.1h0M43.1 266.3h0M46.2 263.5h0M39.5 262.7h0M43.5 267.5h0M41.9 272.6h0M39.0 273.9h0M37.8 274.9h0M35.9 264.9h0M40.7 263.2h0M39.9 262.4h0M40.3 272.0h0M40.4 262.6h0M35.2 276.7h0M41.9 271.8h0M42.9 267.5h0M40.1 262.8h0M42.6 264.4h0M39.3 273.2h0M37.7 275.0h0M29.2 271.9h0M41.3 272.4h0M41.5 271.5h0M42.9 268.0h0M41.2 271.6h0M41.5 272.0h0M42.8 265.9h0M41.8 264.0h0M40.7 270.9h0M31.2 269.7h0M35.9 265.5h0M40.7 263.6h0M38.1 264.1h0M38.7 263.6h0M33.6 267.6h0M38.5 263.8h0M40.7 270.7h0M36.6 264.6h0M41.4 270.4h0M42.6 268.0h0M42.7 268.6h0M39.8 271.0h0M36.9 264.5h0M42.4 269.2h0M37.5 264.7h0M41.2 270.4h0M34.6 266.5h0M39.9 263.6h0M40.0 270.4h0M37.5 274.6h0M38.3 273.7h0M42.2 267.4h0M36.7 265.2h0M39.9 270.2h0M41.8 269.7h0M37.9 273.9h0M41.7 269.8h0M36.5 265.3h0M39.5 272.4h0M38.7 264.5h0M41.0 264.1h0M38.1 273.5h0M33.7 267.8h0M42.3 265.9h0M35.7 266.2h0M40.5 264.1h0M38.0 265.0h0M32.8 277.3h0M37.7 265.2h0M42.0 268.0h0M42.5 265.3h0M37.1 265.7h0M39.1 264.0h0M39.9 264.0h0M37.0 274.9h0M38.2 265.4h0M41.5 264.3h0M39.2 264.4h0M39.4 264.8h0M39.5 264.3h0M39.4 270.3h0M41.9 264.7h0M40.3 264.5h0M34.3 276.4h0M41.8 266.7h0M39.4 271.0h0M41.9 268.7h0M41.4 267.5h0M41.7 269.4h0M42.2 265.4h0M39.1 265.4h0M41.1 264.6h0M37.7 266.1h0M36.7 266.1h0M34.5 267.2h0M41.6 268.7h0M40.8 269.7h0M36.6 274.9h0M41.8 265.2h0M41.0 264.8h0M37.7 273.3h0M35.8 266.4h0M41.5 267.0h0M41.3 269.2h0M41.5 265.0h0M40.7 269.5h0M40.4 268.5h0M38.5 272.8h0M35.9 275.3h0M40.8 269.2h0M38.7 272.7h0M41.0 267.4h0M39.5 265.7h0M40.6 269.2h0M35.7 266.5h0M41.3 265.4h0M40.2 268.8h0M37.1 273.7h0M40.7 267.3h0M39.8 267.7h0M39.9 268.7h0M38.1 272.9h0M37.0 266.6h0M39.6 268.0h0M34.6 267.7h0M38.8 270.2h0M39.4 269.1h0M36.4 266.5h0M41.5 266.6h0M35.3 275.7h0M35.2 267.1h0M38.9 271.8h0M35.5 266.9h0M36.7 274.4h0M38.5 266.1h0M40.7 265.6h0M32.6 277.0h0M41.0 265.6h0M32.4 277.5h0M33.5 276.3h0M38.8 271.0h0M39.5 268.6h0M41.0 266.8h0M34.8 275.8h0M40.1 265.9h0M38.1 266.6h0M41.1 266.0h0M35.9 275.1h0M39.5 267.4h0M39.1 266.0h0M39.3 266.1h0M39.9 266.8h0M38.5 266.4h0M36.5 267.2h0M38.6 270.2h0M40.6 266.9h0M39.3 267.0h0M33.0 268.7h0M37.0 267.1h0M35.1 267.7h0M38.1 266.8h0M39.0 269.1h0M40.6 266.2h0M40.1 266.3h0M37.5 267.0h0M40.8 266.4h0M34.9 268.0h0M35.6 267.7h0M38.9 268.7h0M40.5 266.6h0M39.5 266.7h0M38.9 268.0h0M38.6 271.1h0M37.4 273.0h0M36.0 268.0h0M36.5 267.7h0M39.0 267.6h0M34.5 268.2h0M39.1 266.8h0M31.8 269.5h0M38.9 266.7h0M38.6 268.5h0M37.1 267.7h0M38.6 267.1h0M38.6 269.0h0M34.3 268.4h0M37.0 267.8h0M38.1 267.4h0M34.3 276.0h0M38.5 272.0h0M38.5 267.7h0M37.7 267.5h0M38.4 267.8h0M33.6 268.7h0M38.4 271.6h0M36.3 274.1h0M37.9 268.1h0M38.5 269.6h0M35.6 268.2h0M32.7 269.2h0M37.9 268.4h0M34.0 268.7h0M37.0 268.7h0M30.2 271.4h0M37.4 268.7h0M37.9 272.0h0M32.4 269.4h0M35.6 275.0h0M35.8 274.6h0M38.2 270.2h0M38.2 271.4h0M34.8 275.3h0M37.3 272.3h0M30.8 270.6h0M37.9 269.1h0M33.7 269.0h0M35.8 268.5h0M37.4 269.2h0M33.3 276.2h0M37.9 269.7h0M35.5 274.6h0M37.8 270.9h0M37.8 270.3h0M35.2 268.5h0M35.5 268.6h0M37.2 272.3h0M33.1 269.0h0M31.6 270.2h0M36.2 273.9h0M35.8 269.0h0M36.3 269.1h0M35.2 274.9h0M33.8 269.2h0M37.4 269.7h0M35.0 268.8h0M35.3 268.8h0M34.5 269.0h0M27.1 274.6h0M32.8 276.5h0M34.3 275.4h0M37.3 271.7h0M37.3 270.2h0M36.8 269.6h0M37.4 270.7h0M37.4 271.0h0M36.5 273.2h0M36.8 269.9h0M36.3 269.6h0M33.7 269.4h0M30.7 271.1h0M36.0 273.5h0M36.4 269.9h0M35.8 269.7h0M34.7 269.7h0M35.1 269.7h0M32.3 269.9h0M36.9 271.9h0M34.5 274.9h0M34.8 274.7h0M35.7 269.7h0M36.8 270.7h0M36.2 270.1h0M36.8 271.1h0M36.5 270.6h0M36.8 271.4h0M35.3 270.0h0M34.0 269.6h0M33.2 269.7h0M35.8 270.7h0M36.1 270.8h0M36.4 271.1h0M32.0 270.2h0M33.8 275.3h0M35.4 270.3h0M36.5 272.3h0M35.4 273.9h0M32.3 276.6h0M36.5 271.4h0M34.8 270.2h0"/><path stroke="#ff000e" d="M36.4 271.8h0M35.9 273.1h0M34.5 270.0h0M34.3 274.5h0M36.1 271.7h0M35.5 270.9h0M34.8 273.9h0M31.2 270.8h0M35.4 273.4h0M33.9 270.2h0M31.3 277.4h0M34.8 270.6h0M35.2 273.3h0M35.8 271.9h0M35.9 272.4h0M33.3 270.0h0M33.1 270.2h0M31.7 270.6h0M35.5 272.9h0M34.0 274.9h0M34.9 273.2h0M35.4 272.7h0M34.4 270.7h0M35.3 271.7h0M33.3 275.3h0M34.4 273.8h0M34.9 271.1h0M35.4 272.2h0M34.1 270.7h0M31.9 270.7h0M35.0 271.3h0M34.3 273.3h0M34.8 272.4h0M35.0 271.9h0M33.4 270.7h0M33.8 274.4h0M34.5 271.1h0M31.4 277.2h0M32.9 270.6h0M30.7 271.7h0M32.7 270.6h0M34.3 272.9h0M30.1 272.2h0M33.9 271.1h0M34.4 271.7h0M34.4 272.5h0M34.5 271.8h0M28.5 273.6h0M34.0 273.8h0M33.4 274.8h0M34.0 271.4h0M33.4 271.2h0M30.9 277.3h0M33.1 271.1h0"/><path stroke="#ff1200" d="M33.9 273.3h0M33.9 271.8h0M32.8 275.3h0M33.8 273.0h0M34.0 272.6h0M31.7 271.2h0M33.4 274.3h0M33.4 271.7h0M32.5 271.1h0M32.1 271.2h0M33.4 273.9h0M33.4 272.0h0M32.8 271.6h0M32.5 275.9h0M33.3 273.7h0M31.2 271.7h0M31.9 276.3h0M29.3 273.2h0M33.5 272.7h0M33.4 272.8h0M32.8 274.8h0M28.0 274.4h0"/><path stroke="#ff3300" d="M32.9 272.1h0M32.5 271.7h0M30.6 272.0h0M32.8 274.5h0M27.5 275.2h0M31.7 271.7h0M31.8 271.6h0M32.9 272.5h0M30.0 272.6h0M33.0 274.0h0M32.8 273.2h0M32.9 273.4h0"/><path stroke="#ff5300" d="M32.3 272.1h0M30.9 276.9h0M32.3 275.4h0M31.2 272.1h0M28.6 274.1h0"/><path stroke="#ff7300" d="M31.8 272.2h0M32.3 272.7h0M31.5 276.3h0M31.7 272.2h0M31.8 275.8h0M32.4 274.8h0M32.5 273.1h0"/><path stroke="#ff9400" d="M30.5 272.7h0M29.9 277.3h0M32.5 274.4h0M32.4 273.7h0M32.4 273.9h0M31.8 272.6h0M30.5 276.8h0"/><path stroke="#ffb400" d="M30.2 273.2h0M31.0 272.6h0M31.4 272.5h0"/><path stroke="#ffd500" d="M31.9 275.3h0M30.8 276.3h0M29.6 273.5h0M31.8 273.2h0"/><path stroke="#fff500" d="M31.3 275.8h0M29.2 274.1h0"/><path stroke="#e8ff00" d="M31.9 273.7h0M30.7 273.1h0M31.8 274.8h0M28.6 274.6h0"/><path stroke="#cdff00" d="M31.5 273.1h0M29.3 277.4h0M32.0 274.2h0M28.2 275.2h0M31.9 274.5h0M31.1 273.2h0M27.6 275.6h0M30.0 276.8h0"/><path stroke="#8dff00" d="M30.2 273.6h0M30.3 276.4h0M31.4 275.5h0"/><path stroke="#6cff00" d="M31.3 273.6h0M30.8 276.0h0M27.2 276.1h0"/><path stroke="#4cff00" d="M29.6 274.1h0M30.5 273.7h0"/><path stroke="#2bff00" d="M30.9 273.6h0M31.4 274.2h0M31.3 274.8h0"/><path stroke="#0bff00" d="M31.3 274.6h0M28.8 277.5h0"/><path stroke="#00ff16" d="M29.2 274.5h0"/><path stroke="#00ff36" d="M29.4 276.8h0M30.1 274.1h0M30.8 275.3h0"/><path stroke="#00ff56" d="M30.9 274.2h0M28.7 275.2h0M30.4 275.8h0"/><path stroke="#00ff76" d="M29.8 276.4h0M30.7 274.1h0M27.7 276.2h0M28.2 275.6h0"/><path stroke="#00ff91" d="M27.2 276.5h0M30.9 275.0h0M30.8 274.5h0"/><path stroke="#00ffb1" d="M27.2 277.3h0M28.5 277.5h0"/><path stroke="#00ffd2" d="M29.7 274.6h0M27.2 277.0h0"/><path stroke="#00fff2" d="M27.7 277.5h0M27.9 277.5h0M30.4 274.7h0"/><path stroke="#00ecff" d="M30.2 274.6h0M30.3 275.5h0"/><path stroke="#00cbff" d="M30.3 275.2h0M27.7 276.6h0"/><path stroke="#00aaff" d="M29.0 276.9h0M27.5 276.8h0M29.2 275.2h0"/><path stroke="#008aff" d="M29.9 275.9h0"/><path stroke="#0069ff" d="M29.5 276.3h0"/><path stroke="#0049ff" d="M29.9 275.2h0M29.6 275.2h0"/><path stroke="#0028ff" d="M29.8 275.3h0M28.2 276.2h0M28.6 275.6h0M28.2 276.9h0M28.3 276.8h0"/><path stroke="#3400ff" d="M28.2 276.6h0"/><path stroke="#5500ff" d="M29.4 275.6h0M29.5 275.9h0"/><path stroke="#7600ff" d="M29.2 275.7h0"/><path stroke="#9600ff" d="M28.8 276.4h0"/><path stroke="#b700ff" d="M28.6 276.3h0M28.7 276.1h0M28.8 276.0h0"/></g><line x1="27.0" y1="277.5" x2="110.9" y2="220.3" stroke="#5c5ce8" stroke-width="0.65"/><rect x="27.0" y="165.5" width="110.0" height="112.0" fill="none" stroke="#333" stroke-width="0.9"/><line x1="27.0" y1="277.5" x2="27.0" y2="278.7" stroke="#333" stroke-width="0.6"/><line x1="25.8" y1="277.5" x2="27.0" y2="277.5" stroke="#333" stroke-width="0.6"/><text x="27.0" y="284.6" text-anchor="middle" class="tk">0</text><text x="25.0" y="279.8" text-anchor="end" class="tk">0</text><line x1="54.5" y1="277.5" x2="54.5" y2="278.7" stroke="#333" stroke-width="0.6"/><line x1="25.8" y1="249.5" x2="27.0" y2="249.5" stroke="#333" stroke-width="0.6"/><text x="54.5" y="284.6" text-anchor="middle" class="tk">1000</text><text x="25.0" y="251.8" text-anchor="end" class="tk">1000</text><line x1="82.0" y1="277.5" x2="82.0" y2="278.7" stroke="#333" stroke-width="0.6"/><line x1="25.8" y1="221.5" x2="27.0" y2="221.5" stroke="#333" stroke-width="0.6"/><text x="82.0" y="284.6" text-anchor="middle" class="tk">2000</text><text x="25.0" y="223.8" text-anchor="end" class="tk">2000</text><line x1="109.5" y1="277.5" x2="109.5" y2="278.7" stroke="#333" stroke-width="0.6"/><line x1="25.8" y1="193.5" x2="27.0" y2="193.5" stroke="#333" stroke-width="0.6"/><text x="109.5" y="284.6" text-anchor="middle" class="tk">3000</text><text x="25.0" y="195.8" text-anchor="end" class="tk">3000</text><line x1="137.0" y1="277.5" x2="137.0" y2="278.7" stroke="#333" stroke-width="0.6"/><line x1="25.8" y1="165.5" x2="27.0" y2="165.5" stroke="#333" stroke-width="0.6"/><text x="137.0" y="284.6" text-anchor="middle" class="tk">4000</text><text x="25.0" y="167.8" text-anchor="end" class="tk">4000</text><text x="82.0" y="290.0" text-anchor="middle" class="al">Q<tspan font-size="3.4" dy="0.9">o</tspan><tspan dy="-0.9"> (m</tspan><tspan font-size="3.4" dy="-1.2">3</tspan><tspan dy="1.2">/s)</tspan></text><text transform="translate(10.2 221.5) rotate(-90)" text-anchor="middle" class="al">Q<tspan font-size="3.4" dy="0.9">s</tspan><tspan dy="-0.9"> (m</tspan><tspan font-size="3.4" dy="-1.2">3</tspan><tspan dy="1.2">/s)</tspan></text><linearGradient id="g2" x1="0" y1="0" x2="0" y2="1"><stop offset="0.000" stop-color="#ff00bf"/><stop offset="0.050" stop-color="#fe00ff"/><stop offset="0.100" stop-color="#b700ff"/><stop offset="0.150" stop-color="#7000ff"/><stop offset="0.200" stop-color="#2a00ff"/><stop offset="0.250" stop-color="#0018ff"/><stop offset="0.300" stop-color="#005eff"/><stop offset="0.350" stop-color="#00a5ff"/><stop offset="0.400" stop-color="#00ecff"/><stop offset="0.450" stop-color="#00ffcc"/><stop offset="0.500" stop-color="#00ff8c"/><stop offset="0.550" stop-color="#00ff46"/><stop offset="0.600" stop-color="#00ff00"/><stop offset="0.650" stop-color="#46ff00"/><stop offset="0.700" stop-color="#8dff00"/><stop offset="0.750" stop-color="#cdff00"/><stop offset="0.800" stop-color="#ffea00"/><stop offset="0.850" stop-color="#ffa400"/><stop offset="0.900" stop-color="#ff5e00"/><stop offset="0.950" stop-color="#ff1800"/><stop offset="1.000" stop-color="#ff0029"/></linearGradient><path d="M140.90 167.90L142.30 172.77L142.30 270.13L140.90 275.00L139.50 270.13L139.50 172.77Z" fill="url(#g2)"/><line x1="142.3" y1="182.8" x2="143.3" y2="182.8" stroke="#333" stroke-width="0.5"/><text x="144.4" y="185.2" class="cb" textLength="14.4" lengthAdjust="spacingAndGlyphs">0.008</text><line x1="142.3" y1="204.2" x2="143.3" y2="204.2" stroke="#333" stroke-width="0.5"/><text x="144.4" y="206.6" class="cb" textLength="14.4" lengthAdjust="spacingAndGlyphs">0.006</text><line x1="142.3" y1="226.5" x2="143.3" y2="226.5" stroke="#333" stroke-width="0.5"/><text x="144.4" y="228.9" class="cb" textLength="14.4" lengthAdjust="spacingAndGlyphs">0.004</text><line x1="142.3" y1="248.7" x2="143.3" y2="248.7" stroke="#333" stroke-width="0.5"/><text x="144.4" y="251.1" class="cb" textLength="14.4" lengthAdjust="spacingAndGlyphs">0.002</text><line x1="184.5" y1="276.5" x2="294.5" y2="164.5" stroke="#999" stroke-width="0.65"/><clipPath id="c4"><rect x="184.50" y="164.50" width="110.00" height="112.00"/></clipPath><g clip-path="url(#c4)" stroke-width="1.45" stroke-linecap="round" fill="none"><path stroke="#ff0029" d="M216.6 265.8h0M221.3 247.9h0M228.4 251.7h0M215.3 239.3h0M209.5 268.2h0M223.5 243.7h0M243.3 225.6h0M226.9 255.1h0M241.9 249.0h0M256.9 232.6h0M244.2 219.4h0M258.2 213.3h0M245.6 245.7h0M252.4 243.5h0M267.2 209.7h0M188.9 261.2h0M252.6 235.0h0M260.3 218.6h0M265.7 215.2h0M226.6 234.8h0M243.1 242.5h0M237.1 237.5h0M234.5 235.0h0M206.0 244.6h0M230.6 241.6h0M233.3 240.4h0M278.5 216.1h0M281.2 217.5h0M219.1 251.7h0M198.1 252.6h0M227.5 246.0h0M229.1 247.8h0M290.0 210.1h0M265.0 227.4h0M211.8 245.6h0M211.2 243.6h0M212.0 261.0h0M263.8 231.0h0M188.7 266.2h0M290.7 207.3h0M265.2 229.5h0M209.6 261.7h0M288.9 208.1h0M203.7 270.3h0M199.4 275.9h0M259.6 226.2h0M259.5 224.3h0M234.6 244.1h0M235.4 245.6h0M214.5 256.5h0M219.0 257.8h0M214.8 245.0h0M197.2 271.8h0M198.4 255.3h0M206.6 264.5h0M216.8 249.9h0M211.6 248.9h0M216.2 257.4h0M193.0 260.8h0M209.3 259.5h0M200.0 255.0h0M210.2 264.2h0M211.2 263.4h0M210.1 248.9h0M204.5 254.1h0M209.9 256.7h0M208.5 247.1h0M193.0 276.1h0M208.7 257.0h0M212.9 258.1h0M207.5 248.3h0M216.3 242.9h0M204.3 268.6h0M215.9 243.6h0M194.9 260.0h0M215.3 247.4h0M215.1 248.1h0M206.3 256.3h0M207.3 259.7h0M207.3 258.2h0M210.4 258.4h0M208.7 248.5h0M211.1 258.8h0M201.0 271.5h0M190.9 276.0h0M208.3 255.4h0M195.1 272.9h0M194.6 261.0h0M206.4 258.1h0M201.6 255.4h0M203.4 255.5h0M206.1 259.0h0M209.4 250.7h0M209.1 250.5h0M203.4 268.0h0M211.8 257.8h0M209.0 253.3h0M217.4 256.3h0M207.5 254.4h0M215.7 251.4h0M205.2 256.6h0M211.7 253.2h0M210.5 254.1h0M193.9 273.6h0M204.5 255.3h0M218.3 256.4h0M207.4 255.7h0M211.7 256.6h0M207.1 254.8h0M215.6 250.8h0M211.9 256.6h0M195.1 272.2h0M204.6 256.1h0M192.7 263.7h0M197.1 260.2h0M214.7 250.7h0M187.4 268.1h0M209.5 252.8h0M198.9 269.7h0M196.3 259.4h0M203.5 267.3h0M196.2 258.7h0M207.0 262.3h0M200.7 270.7h0M212.1 253.9h0M200.6 257.2h0M192.9 274.4h0M212.9 255.3h0M203.5 266.9h0M218.2 255.6h0M196.0 261.0h0M200.7 270.2h0M204.6 259.6h0M204.0 265.8h0M201.2 256.4h0M210.4 252.9h0M203.1 257.2h0M203.5 265.8h0M206.6 260.6h0M210.7 253.4h0M200.0 269.6h0M192.6 274.2h0M199.9 269.0h0M204.7 264.5h0M202.8 256.3h0M203.2 264.0h0M204.0 264.8h0M199.3 269.1h0M211.9 254.8h0M204.4 259.2h0M204.4 258.2h0M197.7 269.6h0M201.8 258.3h0M201.1 257.9h0M202.5 256.4h0M203.0 258.4h0M202.2 257.7h0M186.2 268.5h0M206.5 260.8h0M202.0 256.6h0M202.4 263.2h0M195.9 270.7h0M206.7 262.4h0M212.3 254.8h0M202.4 259.0h0M202.8 259.2h0M204.7 264.2h0M202.9 259.8h0M203.8 258.6h0M198.5 259.4h0M198.2 259.7h0M199.7 259.0h0M193.6 263.1h0M202.0 265.4h0M199.4 267.8h0M200.9 266.9h0M201.3 266.3h0M205.1 262.8h0M206.2 262.4h0M197.9 268.8h0M192.0 265.1h0M201.8 265.8h0M200.2 267.5h0M194.7 271.5h0M206.1 261.8h0M201.1 260.0h0M205.1 260.8h0M193.0 265.2h0M200.8 261.0h0M204.2 261.0h0M201.4 264.7h0M200.3 260.2h0M200.0 259.6h0M195.6 262.0h0M199.0 267.6h0M200.1 267.1h0M196.9 269.6h0M192.9 272.9h0M199.0 259.7h0M201.5 262.1h0M205.3 261.0h0M205.7 261.9h0M200.0 259.8h0M204.9 262.4h0M204.5 262.5h0M201.2 264.0h0M192.6 273.1h0M201.3 265.6h0M200.5 261.8h0M203.9 263.3h0M189.2 268.2h0M186.4 269.6h0M203.2 262.9h0M201.1 262.0h0M193.6 263.6h0M203.2 262.5h0M197.7 268.1h0M201.5 261.3h0M197.2 261.8h0M204.5 261.5h0M203.8 261.9h0M186.6 269.1h0M197.3 268.5h0M200.3 265.9h0M199.1 266.6h0M192.1 265.7h0M200.2 266.3h0M199.0 266.1h0M203.1 262.0h0M200.9 264.5h0M193.8 264.3h0M198.4 260.6h0M203.1 261.6h0M200.0 265.8h0M202.7 261.0h0M200.7 264.9h0M197.8 267.7h0M186.7 269.8h0M196.2 261.8h0M193.8 263.9h0M200.5 262.5h0M201.8 260.7h0M200.9 262.8h0M199.4 261.3h0M196.6 267.5h0M191.3 267.0h0M195.3 270.2h0M200.7 264.1h0M195.2 263.3h0M198.4 267.2h0M196.9 268.8h0M198.6 260.8h0M197.0 268.6h0M195.6 262.9h0M198.2 261.6h0M194.3 263.8h0M200.0 265.0h0M200.6 263.1h0M199.2 261.4h0M194.6 264.4h0M187.0 269.5h0M194.9 270.2h0M199.7 264.9h0M196.3 262.2h0M198.9 261.1h0M194.9 264.0h0M196.9 262.4h0M196.4 269.3h0M195.1 264.4h0M195.2 264.9h0M196.2 262.4h0M194.1 265.6h0M194.0 271.1h0M195.8 262.9h0M199.5 262.3h0M198.5 261.3h0M194.6 265.4h0M198.8 264.8h0M195.5 265.0h0M189.1 276.4h0M199.5 264.5h0M199.1 262.2h0M198.0 262.7h0M195.7 263.8h0M196.4 266.8h0M198.5 265.4h0M195.9 266.9h0M195.0 265.4h0M198.5 261.8h0M197.9 266.9h0M200.2 263.1h0M196.5 262.7h0M194.8 267.7h0M192.3 266.2h0M188.5 268.9h0M194.1 265.8h0M198.5 262.4h0M190.2 268.2h0M196.2 268.7h0M196.6 265.1h0M197.7 266.9h0M194.8 267.1h0M194.9 268.1h0M199.4 262.9h0M198.1 265.1h0M190.2 274.9h0M196.7 265.9h0M196.2 264.3h0M198.7 264.3h0M200.0 263.3h0M196.9 266.7h0M195.7 268.6h0M193.0 266.2h0M190.4 268.1h0M196.8 265.9h0M194.5 267.9h0M199.7 263.9h0M197.6 266.6h0M194.8 266.0h0M195.6 269.3h0M197.8 265.7h0M196.1 264.2h0M196.8 263.2h0M197.0 264.9h0M198.0 265.9h0M194.3 266.1h0M196.1 266.2h0M191.6 267.5h0M189.4 275.8h0M195.7 266.4h0M197.5 265.8h0M195.6 269.1h0M195.5 266.0h0M199.3 263.3h0M192.2 266.8h0M198.2 264.4h0M199.2 263.6h0M196.5 263.3h0M198.4 263.6h0M194.5 268.3h0M194.3 266.7h0M194.3 269.2h0M198.2 263.6h0M193.6 266.5h0M197.6 264.4h0M197.9 264.2h0M197.6 263.7h0M196.7 264.2h0M196.9 264.3h0M194.2 268.0h0M197.0 263.6h0M189.0 268.8h0M190.7 268.5h0"/><path stroke="#ff000e" d="M192.8 271.4h0M192.3 266.8h0M193.9 270.3h0M192.6 266.7h0M194.2 269.0h0M197.3 264.0h0M192.9 266.6h0M194.0 267.2h0M192.1 267.6h0M191.7 268.1h0M193.8 268.3h0M191.4 272.9h0M192.4 272.0h0M193.3 270.7h0M192.8 271.1h0M193.9 269.9h0M190.9 268.7h0M193.8 269.3h0M193.1 267.1h0M192.2 268.2h0M193.4 267.6h0M192.6 267.7h0M192.3 271.6h0M192.9 267.6h0M192.3 268.1h0M193.1 267.8h0M191.6 268.6h0M193.6 269.1h0M191.1 268.8h0M193.3 268.7h0M190.3 273.8h0M193.3 269.9h0M193.2 268.6h0M191.6 268.9h0M189.3 275.4h0M193.4 269.6h0M192.8 270.3h0M192.6 268.6h0M190.3 269.2h0M185.8 272.4h0M192.8 268.9h0M192.6 268.8h0M192.3 271.0h0M192.9 269.3h0M189.9 269.1h0M192.1 269.0h0M188.6 275.8h0M189.3 269.1h0M187.6 270.2h0M192.5 269.3h0M191.1 269.4h0M192.4 270.5h0M188.1 276.0h0M191.4 272.5h0M192.3 270.1h0M191.0 272.9h0M190.5 269.4h0M191.8 269.6h0M187.2 270.9h0M191.4 269.7h0M192.2 270.6h0"/><path stroke="#ff1200" d="M191.8 271.4h0M189.1 275.3h0M192.0 271.0h0M191.5 270.0h0M188.5 269.6h0M191.3 271.8h0M191.4 270.3h0M191.1 270.1h0M191.4 271.5h0M190.8 272.5h0M189.9 269.7h0M191.1 271.2h0M189.3 274.8h0M190.6 270.0h0M191.0 272.1h0"/><path stroke="#ff3300" d="M190.9 270.7h0M188.3 275.5h0M191.0 271.4h0M187.4 276.3h0M188.1 270.2h0M190.3 273.1h0M189.1 269.7h0M187.7 276.0h0M190.0 274.0h0M190.3 270.5h0"/><path stroke="#ff5300" d="M187.4 271.2h0M190.5 271.0h0M188.1 270.4h0M185.5 273.1h0M190.4 272.3h0M190.3 271.7h0M189.6 270.0h0M188.6 270.1h0M189.5 274.4h0"/><path stroke="#ff7300" d="M188.9 274.8h0M189.2 270.0h0M190.1 271.0h0M190.0 270.5h0"/><path stroke="#ff9400" d="M190.0 273.3h0M188.2 275.4h0M186.8 276.3h0M184.9 274.1h0M189.3 274.1h0M189.7 270.7h0M186.7 272.5h0M189.2 274.5h0"/><path stroke="#ffb400" d="M189.8 271.3h0"/><path stroke="#ffd500" d="M189.8 272.9h0M189.0 270.5h0M189.8 272.7h0M189.4 271.0h0M188.3 274.9h0"/><path stroke="#fff500" d="M189.8 272.1h0M188.0 271.0h0M186.2 273.2h0"/><path stroke="#e8ff00" d="M187.4 275.5h0M187.1 272.2h0M187.7 271.7h0"/><path stroke="#cdff00" d="M186.5 276.3h0M188.9 274.1h0M188.5 274.3h0M189.4 273.4h0M188.5 271.2h0"/><path stroke="#adff00" d="M188.9 271.2h0M184.8 274.7h0M187.0 275.8h0M186.4 273.0h0"/><path stroke="#8dff00" d="M185.7 273.8h0M189.3 271.6h0"/><path stroke="#6cff00" d="M189.3 272.0h0M189.3 272.8h0M187.9 274.8h0"/><path stroke="#4cff00" d="M188.0 271.7h0M185.9 276.3h0"/><path stroke="#2bff00" d="M189.4 272.3h0M187.2 272.7h0M184.7 275.2h0"/><path stroke="#0bff00" d="M187.5 272.1h0M184.7 276.4h0M189.0 271.7h0M185.7 276.4h0M188.6 271.6h0"/><path stroke="#00ff16" d="M185.1 276.3h0M186.0 273.5h0M184.6 276.1h0"/><path stroke="#00ff36" d="M188.8 273.5h0M186.3 275.8h0"/><path stroke="#00ff76" d="M188.5 273.8h0M189.0 272.1h0"/><path stroke="#00ff91" d="M188.2 272.2h0M188.9 272.9h0M185.1 275.8h0M185.2 275.2h0"/><path stroke="#00ffb1" d="M189.0 272.6h0M187.9 274.4h0M186.9 275.5h0M188.4 272.0h0"/><path stroke="#00ffd2" d="M187.5 272.7h0M185.1 275.3h0M187.3 274.8h0M185.8 275.8h0"/><path stroke="#00fff2" d="M185.6 275.8h0M187.1 273.2h0"/><path stroke="#00ecff" d="M188.3 273.4h0M185.6 274.6h0"/><path stroke="#00cbff" d="M188.3 272.7h0M188.3 273.2h0M188.2 272.6h0M186.7 273.6h0"/><path stroke="#008aff" d="M187.3 274.6h0M186.2 274.2h0M187.8 273.9h0"/><path stroke="#0069ff" d="M187.5 273.1h0M187.8 273.0h0"/><path stroke="#0049ff" d="M186.5 275.4h0M185.5 275.4h0M188.0 273.4h0M185.5 275.2h0"/><path stroke="#000dff" d="M185.8 275.4h0M187.2 273.7h0"/><path stroke="#1400ff" d="M186.9 274.8h0M187.5 273.6h0"/><path stroke="#3400ff" d="M187.3 273.9h0"/><path stroke="#7600ff" d="M186.1 274.5h0M186.6 274.0h0"/><path stroke="#9600ff" d="M186.2 274.9h0M186.9 274.2h0"/><path stroke="#b700ff" d="M186.5 274.8h0M186.9 274.3h0M186.5 274.5h0"/></g><line x1="184.5" y1="276.5" x2="294.5" y2="198.1" stroke="#5c5ce8" stroke-width="0.65"/><rect x="184.5" y="164.5" width="110.0" height="112.0" fill="none" stroke="#333" stroke-width="0.9"/><line x1="184.5" y1="276.5" x2="184.5" y2="277.7" stroke="#333" stroke-width="0.6"/><line x1="183.3" y1="276.5" x2="184.5" y2="276.5" stroke="#333" stroke-width="0.6"/><text x="184.5" y="283.6" text-anchor="middle" class="tk">0</text><text x="182.5" y="278.8" text-anchor="end" class="tk">0</text><line x1="212.0" y1="276.5" x2="212.0" y2="277.7" stroke="#333" stroke-width="0.6"/><line x1="183.3" y1="248.5" x2="184.5" y2="248.5" stroke="#333" stroke-width="0.6"/><text x="212.0" y="283.6" text-anchor="middle" class="tk">1000</text><text x="182.5" y="250.8" text-anchor="end" class="tk">1000</text><line x1="239.5" y1="276.5" x2="239.5" y2="277.7" stroke="#333" stroke-width="0.6"/><line x1="183.3" y1="220.5" x2="184.5" y2="220.5" stroke="#333" stroke-width="0.6"/><text x="239.5" y="283.6" text-anchor="middle" class="tk">2000</text><text x="182.5" y="222.8" text-anchor="end" class="tk">2000</text><line x1="267.0" y1="276.5" x2="267.0" y2="277.7" stroke="#333" stroke-width="0.6"/><line x1="183.3" y1="192.5" x2="184.5" y2="192.5" stroke="#333" stroke-width="0.6"/><text x="267.0" y="283.6" text-anchor="middle" class="tk">3000</text><text x="182.5" y="194.8" text-anchor="end" class="tk">3000</text><line x1="294.5" y1="276.5" x2="294.5" y2="277.7" stroke="#333" stroke-width="0.6"/><line x1="183.3" y1="164.5" x2="184.5" y2="164.5" stroke="#333" stroke-width="0.6"/><text x="294.5" y="283.6" text-anchor="middle" class="tk">4000</text><text x="182.5" y="166.8" text-anchor="end" class="tk">4000</text><text x="239.5" y="289.0" text-anchor="middle" class="al">Q<tspan font-size="3.4" dy="0.9">o</tspan><tspan dy="-0.9"> (m</tspan><tspan font-size="3.4" dy="-1.2">3</tspan><tspan dy="1.2">/s)</tspan></text><text transform="translate(167.7 220.5) rotate(-90)" text-anchor="middle" class="al">Q<tspan font-size="3.4" dy="0.9">s</tspan><tspan dy="-0.9"> (m</tspan><tspan font-size="3.4" dy="-1.2">3</tspan><tspan dy="1.2">/s)</tspan></text><linearGradient id="g3" x1="0" y1="0" x2="0" y2="1"><stop offset="0.000" stop-color="#ff00bf"/><stop offset="0.050" stop-color="#fe00ff"/><stop offset="0.100" stop-color="#b700ff"/><stop offset="0.150" stop-color="#7000ff"/><stop offset="0.200" stop-color="#2a00ff"/><stop offset="0.250" stop-color="#0018ff"/><stop offset="0.300" stop-color="#005eff"/><stop offset="0.350" stop-color="#00a5ff"/><stop offset="0.400" stop-color="#00ecff"/><stop offset="0.450" stop-color="#00ffcc"/><stop offset="0.500" stop-color="#00ff8c"/><stop offset="0.550" stop-color="#00ff46"/><stop offset="0.600" stop-color="#00ff00"/><stop offset="0.650" stop-color="#46ff00"/><stop offset="0.700" stop-color="#8dff00"/><stop offset="0.750" stop-color="#cdff00"/><stop offset="0.800" stop-color="#ffea00"/><stop offset="0.850" stop-color="#ffa400"/><stop offset="0.900" stop-color="#ff5e00"/><stop offset="0.950" stop-color="#ff1800"/><stop offset="1.000" stop-color="#ff0029"/></linearGradient><path d="M298.25 167.00L299.50 171.82L299.50 268.18L298.25 273.00L297.00 268.18L297.00 171.82Z" fill="url(#g3)"/><line x1="299.5" y1="179.8" x2="300.5" y2="179.8" stroke="#333" stroke-width="0.5"/><text x="301.6" y="182.2" class="cb" textLength="14.4" lengthAdjust="spacingAndGlyphs">0.006</text><line x1="299.5" y1="195.3" x2="300.5" y2="195.3" stroke="#333" stroke-width="0.5"/><text x="301.6" y="197.7" class="cb" textLength="14.4" lengthAdjust="spacingAndGlyphs">0.005</text><line x1="299.5" y1="210.0" x2="300.5" y2="210.0" stroke="#333" stroke-width="0.5"/><text x="301.6" y="212.4" class="cb" textLength="14.4" lengthAdjust="spacingAndGlyphs">0.004</text><line x1="299.5" y1="224.5" x2="300.5" y2="224.5" stroke="#333" stroke-width="0.5"/><text x="301.6" y="226.9" class="cb" textLength="14.4" lengthAdjust="spacingAndGlyphs">0.003</text><line x1="299.5" y1="239.4" x2="300.5" y2="239.4" stroke="#333" stroke-width="0.5"/><text x="301.6" y="241.8" class="cb" textLength="14.4" lengthAdjust="spacingAndGlyphs">0.002</text><line x1="299.5" y1="254.2" x2="300.5" y2="254.2" stroke="#333" stroke-width="0.5"/><text x="301.6" y="256.6" class="cb" textLength="14.4" lengthAdjust="spacingAndGlyphs">0.001</text><line x1="25.0" y1="425.5" x2="134.5" y2="313.5" stroke="#999" stroke-width="0.65"/><clipPath id="c5"><rect x="25.00" y="313.50" width="109.50" height="112.00"/></clipPath><g clip-path="url(#c5)" stroke-width="1.45" stroke-linecap="round" fill="none"><path stroke="#ff0029" d="M104.4 354.6h0M76.2 369.7h0M96.8 361.6h0M106.8 349.9h0M78.0 364.9h0M105.0 346.1h0M102.0 351.4h0M70.4 387.0h0M99.5 356.2h0M103.2 342.4h0M28.0 413.4h0M83.4 370.5h0M97.0 354.7h0M48.3 409.6h0M75.9 373.4h0M77.9 374.6h0M88.5 363.1h0M95.9 347.6h0M88.1 354.8h0M51.7 392.0h0M71.3 378.4h0M94.0 352.8h0M73.5 381.3h0M99.7 349.1h0M66.7 389.5h0M90.0 356.0h0M58.7 389.6h0M63.7 381.0h0M88.9 365.8h0M64.0 387.9h0M66.2 379.2h0M82.4 366.1h0M75.6 377.8h0M75.4 376.5h0M65.7 380.7h0M92.1 354.8h0M93.6 355.0h0M64.5 382.6h0M65.1 391.0h0M64.5 390.0h0M57.5 396.3h0M31.6 425.2h0M68.7 376.3h0M62.8 391.8h0M69.6 376.8h0M59.7 387.4h0M45.7 395.2h0M46.7 395.3h0M95.3 357.4h0M96.3 357.2h0M61.1 384.0h0M70.0 380.3h0M83.3 357.8h0M84.0 358.7h0M97.6 349.3h0M71.2 380.5h0M69.3 382.5h0M97.7 350.9h0M87.4 365.1h0M71.9 382.9h0M64.1 384.5h0M66.1 384.3h0M106.2 342.0h0M105.9 342.3h0M54.8 395.3h0M60.8 395.5h0M55.3 390.9h0M54.5 392.1h0M57.6 395.2h0M65.4 384.2h0M60.8 385.6h0M82.1 367.9h0M82.7 367.8h0M96.3 349.8h0M62.4 387.4h0M55.8 397.5h0M88.6 357.9h0M88.3 357.5h0M59.6 394.8h0M56.6 393.4h0M59.1 391.7h0M55.1 400.7h0M54.0 394.7h0M48.9 406.6h0M60.8 394.5h0M52.6 403.1h0M60.4 392.5h0M54.7 401.0h0M86.2 365.4h0M56.3 391.5h0M45.6 400.1h0M53.7 393.0h0M56.1 399.7h0M49.5 405.7h0M36.7 418.9h0M47.5 399.1h0M49.3 397.8h0M61.1 391.5h0M61.0 386.4h0M96.8 350.4h0M86.3 365.0h0M54.0 392.8h0M53.1 401.1h0M52.7 402.4h0M62.5 384.2h0M46.9 407.5h0M56.3 398.9h0M61.1 387.2h0M68.2 384.4h0M55.8 391.6h0M49.2 406.1h0M61.9 388.2h0M51.5 403.0h0M53.7 400.1h0M55.7 398.9h0M60.4 395.0h0M67.5 384.9h0M60.5 388.8h0M67.9 384.9h0M59.1 392.3h0M51.6 402.5h0M71.2 382.3h0M45.6 408.8h0M28.1 417.8h0M39.5 406.5h0M60.6 388.6h0M29.9 415.5h0M39.8 405.9h0M61.4 388.5h0M63.5 385.5h0M63.2 385.7h0M61.5 392.4h0M63.3 385.8h0M53.4 398.8h0M43.6 401.7h0M54.7 396.4h0M70.7 382.0h0M51.9 395.0h0M53.3 398.1h0M51.9 396.9h0M52.1 394.7h0M43.8 401.7h0M49.6 404.4h0M51.9 396.5h0M41.4 404.6h0M44.8 410.4h0M52.4 398.3h0M57.8 394.2h0M51.0 398.7h0M54.6 398.0h0M50.0 404.0h0M43.6 411.0h0M57.9 392.7h0M44.5 401.8h0M58.5 392.6h0M49.5 398.7h0M40.2 406.4h0M49.0 398.9h0M54.4 397.1h0M52.6 395.0h0M29.7 415.9h0M46.4 400.0h0M50.7 399.1h0M51.9 398.5h0M51.5 400.8h0M54.1 397.0h0M44.5 410.4h0M52.8 397.0h0M49.5 399.5h0M57.6 393.7h0M31.4 423.1h0M40.2 415.5h0M49.7 402.9h0M58.0 393.6h0M42.8 411.4h0M58.1 393.2h0M35.6 410.7h0M48.0 405.2h0M45.2 408.9h0M52.5 399.6h0M52.7 400.1h0M39.3 415.9h0M49.5 403.6h0M49.2 403.7h0M52.3 395.8h0M41.3 405.0h0M50.4 401.8h0M37.0 417.6h0M42.7 403.6h0M44.2 410.3h0M53.0 395.7h0M36.6 409.0h0M51.7 399.1h0M46.2 401.7h0M53.1 396.4h0M48.0 404.6h0M36.5 409.8h0M50.2 400.3h0M51.4 399.7h0M46.1 406.4h0M34.7 411.5h0M51.8 400.4h0M37.1 408.2h0M40.0 407.1h0M41.5 412.9h0M51.7 400.1h0M51.9 400.2h0M38.0 416.5h0M50.3 401.5h0M48.0 403.6h0M41.7 405.3h0M43.6 402.8h0M48.9 402.7h0M47.2 400.2h0M37.3 408.2h0M46.6 405.7h0M46.5 401.0h0M37.2 408.5h0M49.1 400.7h0M41.9 411.5h0M34.2 412.1h0M41.4 406.1h0M46.2 402.2h0M49.7 400.7h0M41.8 405.4h0M37.3 417.2h0M50.2 401.4h0M49.1 402.1h0M43.9 402.8h0M29.9 416.6h0M50.0 401.0h0M42.9 410.6h0M44.8 402.6h0M40.4 414.5h0M38.8 415.6h0M40.9 413.8h0M38.2 408.1h0M40.7 407.3h0M45.8 402.3h0M47.4 404.9h0M38.7 408.2h0M44.5 402.8h0M37.0 417.2h0M49.6 401.1h0M49.2 401.0h0M46.8 401.8h0M29.7 417.2h0M37.6 408.3h0M45.6 406.6h0M41.1 413.4h0M49.2 401.5h0M37.5 409.3h0M47.5 400.5h0M48.7 402.2h0M42.8 405.3h0M47.6 402.6h0M42.3 410.7h0M42.7 405.6h0M47.1 400.6h0M43.5 403.6h0M44.5 408.9h0M45.9 405.3h0M43.4 405.6h0M43.0 404.1h0M43.9 409.3h0M39.8 407.9h0M43.1 404.6h0M39.0 415.2h0M41.5 412.1h0M46.6 402.6h0M42.8 406.2h0M37.8 416.1h0M43.8 405.1h0M46.9 404.9h0M43.6 409.3h0M39.7 408.2h0M43.5 406.5h0M38.0 409.0h0M43.7 406.1h0M44.1 403.4h0M40.5 407.9h0M37.8 409.5h0M47.5 401.8h0M47.3 404.1h0M27.7 419.4h0M45.0 406.0h0M47.9 401.9h0M26.5 420.8h0M41.6 407.0h0M42.4 406.5h0M32.8 414.7h0M38.7 408.6h0M42.3 410.0h0M47.8 401.1h0M47.7 401.2h0M43.6 404.5h0M34.1 412.8h0M37.4 416.5h0M39.0 408.6h0M44.7 404.9h0M44.8 404.9h0M42.1 406.7h0M43.9 404.6h0M46.2 405.0h0M38.3 408.8h0M41.1 412.4h0M47.0 403.1h0M38.6 415.1h0M29.2 417.8h0M42.3 407.0h0M42.1 406.9h0M44.8 407.7h0M39.9 408.4h0M42.3 409.6h0M44.8 406.4h0M32.3 415.1h0M34.4 419.4h0M35.5 418.5h0M40.4 413.5h0M39.7 408.7h0M40.8 412.9h0M37.2 416.4h0M44.1 404.2h0M43.5 408.8h0M44.4 406.5h0M35.6 411.6h0M41.4 408.1h0M30.1 423.8h0M45.6 403.0h0M39.3 414.4h0M43.9 408.3h0M42.1 407.7h0M40.0 413.9h0M34.8 412.1h0M41.3 410.7h0M44.7 404.5h0M38.0 410.1h0M44.1 406.7h0M42.5 407.5h0M38.7 409.3h0M39.2 409.2h0M40.1 413.7h0M46.8 404.0h0M44.0 407.9h0M43.9 407.5h0M44.5 404.1h0M35.6 418.1h0M36.7 411.2h0M46.4 404.4h0M41.9 409.4h0M44.8 407.0h0M30.4 416.8h0M42.7 407.9h0M45.5 404.4h0M43.6 408.1h0M43.0 409.0h0M40.7 408.6h0M43.3 408.7h0M42.5 408.8h0M44.0 407.2h0M35.8 417.2h0M41.0 408.7h0M42.0 408.7h0M39.1 414.3h0M41.9 409.2h0M41.5 408.6h0M44.3 407.4h0M38.9 409.7h0M45.2 404.0h0M32.2 415.7h0M41.4 409.3h0M45.9 403.4h0M43.0 408.0h0M36.1 411.6h0M44.4 407.2h0M43.0 408.4h0M40.8 408.8h0M46.4 403.6h0M38.4 410.2h0M45.4 403.8h0M46.3 403.8h0M39.7 409.6h0M36.0 411.9h0M45.6 403.6h0M39.1 409.9h0M33.8 419.4h0M41.0 409.7h0M39.9 409.7h0M31.3 422.0h0M37.6 410.5h0M40.1 413.1h0M40.7 412.4h0M39.5 409.8h0M40.4 409.7h0M35.6 412.0h0M35.2 412.4h0M39.7 413.3h0M32.9 420.2h0M40.9 410.5h0M37.9 410.7h0M36.6 411.7h0M40.9 411.2h0M34.2 413.7h0M38.9 414.1h0M32.7 415.5h0M40.3 410.2h0M35.5 412.3h0M39.3 412.8h0M38.4 410.6h0M40.6 410.6h0M35.5 416.8h0M39.2 412.9h0M39.1 410.6h0M40.7 411.5h0M39.4 412.7h0M35.0 418.6h0M32.0 421.1h0M40.0 412.4h0M39.0 413.7h0M37.7 411.1h0M31.1 416.6h0M37.2 411.7h0M38.0 410.8h0M31.9 421.3h0M40.1 410.6h0M39.0 411.9h0M31.6 421.6h0M28.6 424.8h0M30.5 417.3h0M32.5 420.5h0M37.5 414.9h0M38.1 414.5h0M39.2 411.1h0M35.3 417.4h0M39.2 411.5h0M27.9 419.6h0M38.5 411.0h0M40.3 411.1h0M37.1 412.1h0M39.3 411.0h0M38.5 411.8h0M39.5 412.0h0M38.5 411.3h0M38.4 414.0h0M39.8 411.9h0M38.1 411.3h0M38.4 413.1h0M38.0 412.7h0M36.4 415.8h0M35.2 413.2h0M38.4 413.3h0M30.9 422.4h0M39.8 411.1h0M39.7 411.4h0M35.7 412.9h0M37.8 411.8h0M37.7 412.0h0M28.4 419.0h0M39.8 411.5h0M34.6 413.7h0M37.1 412.7h0M37.7 412.6h0M29.6 423.8h0M32.9 415.7h0M38.2 413.3h0M33.4 415.4h0M36.8 415.4h0"/><path stroke="#ff000e" d="M37.8 413.1h0M33.9 418.8h0M37.9 413.9h0M37.7 413.1h0M34.1 414.6h0M31.7 416.6h0M35.8 413.2h0M37.2 413.1h0M32.1 416.3h0M36.6 413.2h0M35.9 415.9h0M37.2 414.8h0M37.3 413.5h0M36.7 415.4h0M37.3 414.3h0M37.0 413.4h0M37.5 414.1h0M35.6 415.9h0M34.5 414.2h0M32.5 419.5h0M34.9 417.9h0M32.7 416.1h0M27.8 425.4h0M29.9 418.2h0M29.0 418.6h0M34.3 418.4h0M30.3 422.8h0M34.7 414.3h0M35.5 413.6h0M33.3 418.9h0M36.5 413.7h0M36.9 414.6h0M31.2 417.1h0M35.8 413.6h0M36.1 415.4h0M34.9 417.4h0M34.9 416.3h0M34.8 417.2h0M36.9 414.2h0M32.3 419.9h0M34.0 415.7h0M35.2 414.2h0M34.5 414.9h0M34.8 415.9h0M36.6 414.2h0M34.7 415.3h0M36.2 413.8h0M36.4 414.8h0M35.1 414.3h0M35.6 414.1h0M35.3 415.3h0M35.2 415.4h0M36.5 414.4h0M30.0 423.4h0M33.8 418.4h0M34.5 416.1h0M33.2 416.1h0M31.5 417.2h0M36.1 414.6h0M35.1 414.8h0M35.8 414.9h0M35.4 414.5h0M35.7 414.9h0M31.2 417.4h0M34.5 417.9h0M33.8 416.0h0M32.5 416.7h0M33.7 418.3h0M33.6 416.2h0M34.4 416.5h0"/><path stroke="#ff1200" d="M32.8 418.9h0M34.3 416.8h0M34.3 417.6h0M31.8 420.4h0M33.0 416.7h0M34.0 417.8h0M33.9 416.6h0M30.7 418.1h0M33.4 416.6h0M32.2 417.2h0M32.9 418.7h0M29.5 418.7h0M33.4 418.0h0M31.8 420.2h0M33.9 417.1h0M33.9 417.4h0M31.4 420.9h0M32.5 417.2h0M32.9 417.1h0M33.4 417.1h0M33.3 417.3h0M25.9 422.3h0M32.4 419.0h0"/><path stroke="#ff3300" d="M32.0 419.7h0M27.6 420.6h0M32.8 417.5h0M31.5 417.5h0M31.2 418.0h0M32.9 417.8h0M31.3 420.5h0M31.0 421.4h0M29.2 419.0h0M30.2 418.6h0M32.3 417.6h0M32.2 417.6h0M32.4 418.4h0M32.0 418.9h0"/><path stroke="#ff5300" d="M30.6 418.5h0M32.3 418.2h0M31.7 418.2h0M29.2 423.5h0M30.9 418.6h0M31.9 418.2h0M31.8 418.3h0M29.3 423.4h0M31.3 418.6h0M31.3 419.2h0"/><path stroke="#ff7300" d="M31.5 420.0h0M30.3 422.0h0M31.5 419.5h0M25.3 423.1h0M30.9 420.8h0M29.6 419.1h0M27.1 425.3h0M30.8 419.2h0"/><path stroke="#ff9400" d="M28.6 423.8h0M30.5 419.2h0M30.0 419.2h0M30.3 421.7h0M25.2 423.4h0"/><path stroke="#ffb400" d="M30.9 420.4h0M30.9 419.7h0M30.9 419.8h0M29.1 419.7h0"/><path stroke="#ffd500" d="M29.9 422.4h0M28.1 420.6h0M27.1 421.6h0M26.7 422.0h0M28.7 420.1h0M27.5 425.0h0"/><path stroke="#fff500" d="M28.0 424.3h0M30.3 419.6h0M29.4 422.8h0"/><path stroke="#e8ff00" d="M29.6 419.7h0M30.3 421.0h0M29.8 419.7h0"/><path stroke="#cdff00" d="M30.5 420.0h0M30.3 420.3h0M27.6 421.4h0"/><path stroke="#adff00" d="M29.9 421.9h0"/><path stroke="#6cff00" d="M29.1 420.1h0"/><path stroke="#4cff00" d="M29.8 420.1h0M26.3 425.3h0M28.7 420.7h0"/><path stroke="#2bff00" d="M28.2 421.1h0M25.7 423.6h0M27.0 424.9h0M29.5 420.1h0M26.1 423.0h0M29.9 421.5h0"/><path stroke="#0bff00" d="M29.4 422.4h0M26.6 422.6h0M27.1 422.1h0"/><path stroke="#00ff16" d="M27.4 424.5h0M29.8 420.6h0M28.8 422.9h0M28.5 423.3h0M29.9 421.0h0"/><path stroke="#00ff36" d="M27.9 423.8h0"/><path stroke="#00ff76" d="M29.0 420.6h0"/><path stroke="#00ff91" d="M29.3 420.7h0"/><path stroke="#00ffb1" d="M25.8 425.4h0M29.3 421.9h0"/><path stroke="#00ffd2" d="M28.7 421.2h0"/><path stroke="#00fff2" d="M26.3 425.0h0"/><path stroke="#00ecff" d="M29.3 421.1h0M28.2 421.5h0M29.4 421.3h0M25.7 424.2h0"/><path stroke="#00cbff" d="M26.1 423.6h0M29.0 421.2h0M28.8 422.3h0"/><path stroke="#00aaff" d="M26.8 424.3h0M27.6 422.1h0M25.4 425.4h0M26.5 423.1h0"/><path stroke="#008aff" d="M28.3 422.9h0M25.2 425.5h0M27.2 422.7h0"/><path stroke="#0069ff" d="M25.2 424.6h0M27.8 423.4h0M27.4 423.8h0M25.9 424.8h0"/><path stroke="#0049ff" d="M25.2 424.9h0M25.4 425.0h0"/><path stroke="#0028ff" d="M25.7 424.6h0M29.0 421.7h0M28.6 421.7h0M29.0 422.0h0"/><path stroke="#1400ff" d="M26.1 424.2h0M26.4 424.4h0M26.2 424.4h0"/><path stroke="#3400ff" d="M28.0 422.1h0M28.4 422.3h0M28.3 422.2h0"/><path stroke="#5500ff" d="M26.6 423.6h0"/><path stroke="#7600ff" d="M26.9 424.0h0M27.6 422.5h0M27.8 422.8h0M26.7 423.9h0"/><path stroke="#9600ff" d="M27.9 422.5h0M27.0 423.2h0"/><path stroke="#b700ff" d="M27.4 423.3h0M27.1 423.5h0M27.4 423.0h0"/></g><line x1="25.0" y1="425.5" x2="107.1" y2="343.2" stroke="#5c5ce8" stroke-width="0.65"/><rect x="25.0" y="313.5" width="109.5" height="112.0" fill="none" stroke="#333" stroke-width="0.9"/><line x1="25.0" y1="425.5" x2="25.0" y2="426.7" stroke="#333" stroke-width="0.6"/><line x1="23.8" y1="425.5" x2="25.0" y2="425.5" stroke="#333" stroke-width="0.6"/><text x="25.0" y="432.6" text-anchor="middle" class="tk">0</text><text x="23.0" y="427.8" text-anchor="end" class="tk">0</text><line x1="52.4" y1="425.5" x2="52.4" y2="426.7" stroke="#333" stroke-width="0.6"/><line x1="23.8" y1="397.5" x2="25.0" y2="397.5" stroke="#333" stroke-width="0.6"/><text x="52.4" y="432.6" text-anchor="middle" class="tk">1000</text><text x="23.0" y="399.8" text-anchor="end" class="tk">1000</text><line x1="79.8" y1="425.5" x2="79.8" y2="426.7" stroke="#333" stroke-width="0.6"/><line x1="23.8" y1="369.5" x2="25.0" y2="369.5" stroke="#333" stroke-width="0.6"/><text x="79.8" y="432.6" text-anchor="middle" class="tk">2000</text><text x="23.0" y="371.8" text-anchor="end" class="tk">2000</text><line x1="107.1" y1="425.5" x2="107.1" y2="426.7" stroke="#333" stroke-width="0.6"/><line x1="23.8" y1="341.5" x2="25.0" y2="341.5" stroke="#333" stroke-width="0.6"/><text x="107.1" y="432.6" text-anchor="middle" class="tk">3000</text><text x="23.0" y="343.8" text-anchor="end" class="tk">3000</text><line x1="134.5" y1="425.5" x2="134.5" y2="426.7" stroke="#333" stroke-width="0.6"/><line x1="23.8" y1="313.5" x2="25.0" y2="313.5" stroke="#333" stroke-width="0.6"/><text x="134.5" y="432.6" text-anchor="middle" class="tk">4000</text><text x="23.0" y="315.8" text-anchor="end" class="tk">4000</text><text x="79.8" y="438.0" text-anchor="middle" class="al">Q<tspan font-size="3.4" dy="0.9">o</tspan><tspan dy="-0.9"> (m</tspan><tspan font-size="3.4" dy="-1.2">3</tspan><tspan dy="1.2">/s)</tspan></text><text transform="translate(8.2 369.5) rotate(-90)" text-anchor="middle" class="al">Q<tspan font-size="3.4" dy="0.9">s</tspan><tspan dy="-0.9"> (m</tspan><tspan font-size="3.4" dy="-1.2">3</tspan><tspan dy="1.2">/s)</tspan></text><linearGradient id="g4" x1="0" y1="0" x2="0" y2="1"><stop offset="0.000" stop-color="#ff00bf"/><stop offset="0.050" stop-color="#fe00ff"/><stop offset="0.100" stop-color="#b700ff"/><stop offset="0.150" stop-color="#7000ff"/><stop offset="0.200" stop-color="#2a00ff"/><stop offset="0.250" stop-color="#0018ff"/><stop offset="0.300" stop-color="#005eff"/><stop offset="0.350" stop-color="#00a5ff"/><stop offset="0.400" stop-color="#00ecff"/><stop offset="0.450" stop-color="#00ffcc"/><stop offset="0.500" stop-color="#00ff8c"/><stop offset="0.550" stop-color="#00ff46"/><stop offset="0.600" stop-color="#00ff00"/><stop offset="0.650" stop-color="#46ff00"/><stop offset="0.700" stop-color="#8dff00"/><stop offset="0.750" stop-color="#cdff00"/><stop offset="0.800" stop-color="#ffea00"/><stop offset="0.850" stop-color="#ffa400"/><stop offset="0.900" stop-color="#ff5e00"/><stop offset="0.950" stop-color="#ff1800"/><stop offset="1.000" stop-color="#ff0029"/></linearGradient><path d="M138.60 316.00L139.90 320.86L139.90 418.14L138.60 423.00L137.30 418.14L137.30 320.86Z" fill="url(#g4)"/><line x1="139.9" y1="340.8" x2="140.9" y2="340.8" stroke="#333" stroke-width="0.5"/><text x="142.0" y="343.2" class="cb" textLength="14.4" lengthAdjust="spacingAndGlyphs">0.006</text><line x1="139.9" y1="366.5" x2="140.9" y2="366.5" stroke="#333" stroke-width="0.5"/><text x="142.0" y="368.9" class="cb" textLength="14.4" lengthAdjust="spacingAndGlyphs">0.004</text><line x1="139.9" y1="392.3" x2="140.9" y2="392.3" stroke="#333" stroke-width="0.5"/><text x="142.0" y="394.7" class="cb" textLength="14.4" lengthAdjust="spacingAndGlyphs">0.002</text><line x1="184.5" y1="426.5" x2="294.5" y2="314.5" stroke="#999" stroke-width="0.65"/><clipPath id="c6"><rect x="184.50" y="314.50" width="110.00" height="112.00"/></clipPath><g clip-path="url(#c6)" stroke-width="1.45" stroke-linecap="round" fill="none"><path stroke="#ff0029" d="M286.0 329.8h0M265.8 344.1h0M223.7 384.9h0M240.0 364.4h0M203.1 395.1h0M283.4 318.8h0M277.2 333.2h0M230.3 390.6h0M258.5 369.9h0M262.6 351.0h0M244.2 366.8h0M268.5 338.9h0M243.7 354.6h0M254.6 361.2h0M251.8 349.2h0M248.5 369.7h0M290.9 335.5h0M201.7 419.6h0M203.9 399.1h0M258.8 355.2h0M234.3 380.7h0M231.7 381.6h0M219.0 387.4h0M226.5 390.9h0M238.9 374.1h0M239.8 371.7h0M274.7 336.8h0M277.0 337.7h0M237.0 370.4h0M190.6 411.9h0M198.9 402.8h0M205.4 411.2h0M234.9 371.7h0M185.7 413.5h0M206.9 408.4h0M222.5 392.5h0M235.8 374.3h0M234.0 373.9h0M218.3 394.9h0M217.9 393.5h0M227.3 383.4h0M227.4 384.9h0M261.1 360.2h0M262.2 359.2h0M255.1 352.4h0M216.1 389.4h0M256.4 352.8h0M217.3 389.9h0M201.6 403.5h0M200.4 404.8h0M214.9 400.1h0M196.8 420.9h0M215.1 395.7h0M214.2 394.9h0M187.5 417.5h0M233.3 377.0h0M234.4 377.2h0M223.7 389.8h0M223.6 391.0h0M203.3 412.7h0M202.0 414.2h0M206.2 403.7h0M210.6 398.1h0M208.7 406.4h0M280.2 337.3h0M280.7 336.6h0M230.0 385.7h0M229.0 386.1h0M200.6 415.9h0M208.0 399.9h0M199.5 416.9h0M207.8 405.1h0M189.1 414.4h0M207.9 404.1h0M213.6 400.0h0M209.2 403.3h0M266.4 352.3h0M266.7 351.8h0M227.0 388.1h0M227.2 387.7h0M214.8 397.6h0M198.6 417.7h0M203.1 403.8h0M190.2 414.5h0M196.9 408.6h0M199.9 406.7h0M199.9 407.2h0M194.1 422.4h0M214.3 397.3h0M213.0 399.5h0M206.5 401.3h0M212.4 394.7h0M195.2 421.0h0M200.9 414.6h0M209.6 405.8h0M195.4 409.5h0M211.7 402.0h0M210.1 399.3h0M201.6 405.6h0M188.9 416.3h0M195.9 408.1h0M212.7 398.6h0M210.0 403.9h0M207.8 402.0h0M209.1 399.2h0M211.3 401.3h0M212.7 397.6h0M201.3 407.6h0M190.3 415.3h0M212.9 397.5h0M202.5 408.3h0M199.8 409.3h0M209.1 401.0h0M207.2 402.1h0M189.4 415.8h0M204.3 405.5h0M209.7 398.9h0M196.4 419.7h0M210.5 401.5h0M209.9 401.6h0M204.5 408.3h0M207.1 401.3h0M203.7 404.9h0M209.1 401.5h0M210.5 404.8h0M195.9 408.7h0M200.0 414.4h0M190.2 426.5h0M204.1 407.6h0M204.0 406.7h0M198.5 416.1h0M200.5 412.9h0M201.7 412.9h0M197.3 418.7h0M209.8 404.5h0M210.1 405.1h0M197.7 417.2h0M202.2 406.2h0M199.2 414.8h0M204.9 403.9h0M198.7 415.5h0M192.7 422.9h0M200.7 410.1h0M197.2 418.6h0M196.1 410.2h0M201.9 409.3h0M202.3 411.9h0M204.6 404.5h0M193.4 413.0h0M202.2 407.1h0M202.1 406.6h0M202.3 411.3h0M202.9 409.8h0M204.6 404.1h0M189.4 426.4h0M198.6 409.6h0M202.7 409.3h0M202.5 409.8h0M196.9 417.6h0M202.0 410.6h0M194.0 412.2h0M202.2 409.8h0M196.6 410.3h0M194.1 421.1h0M198.9 409.9h0M199.4 413.8h0M201.4 410.9h0M193.8 421.4h0M201.6 411.8h0M198.1 410.2h0M196.1 418.7h0M192.2 414.5h0M196.7 417.4h0M197.8 415.3h0M201.3 411.7h0M198.4 410.0h0M199.7 410.3h0M196.8 410.7h0M195.2 411.3h0M196.9 416.5h0M193.6 413.7h0M193.3 413.9h0M190.0 417.1h0M200.6 411.1h0M197.9 410.6h0M192.5 414.5h0M194.1 412.5h0M192.1 415.3h0M200.2 411.2h0M196.3 411.1h0M192.3 415.0h0M192.8 414.6h0M189.7 417.7h0M190.7 416.5h0M198.9 410.9h0M194.7 412.0h0M197.5 411.3h0M195.3 418.6h0M200.0 411.5h0M196.8 411.4h0M199.7 411.1h0M199.5 412.6h0M195.0 411.9h0M194.8 419.1h0M197.8 411.3h0M192.2 422.5h0M190.1 424.5h0M196.1 411.7h0M198.4 414.0h0M198.9 413.3h0M197.6 411.9h0M196.8 415.6h0M192.5 422.1h0M186.8 420.2h0M199.1 411.7h0M189.9 424.9h0M195.0 412.4h0M196.5 412.1h0M195.5 417.6h0M186.7 420.6h0M198.5 411.7h0M196.2 412.2h0M195.4 412.5h0M195.9 413.9h0M191.2 416.7h0M195.0 412.9h0M197.0 414.5h0M195.8 412.8h0M190.4 417.5h0M189.3 418.0h0M188.8 418.3h0M195.4 412.9h0M198.7 413.4h0M196.9 415.2h0M191.0 416.9h0M198.9 412.9h0M194.9 418.7h0M196.6 413.1h0M195.5 413.6h0M196.6 413.9h0M195.0 413.5h0M198.7 411.8h0M197.0 412.5h0M198.9 412.7h0M193.9 414.5h0M196.7 414.7h0M197.5 412.4h0M192.6 421.7h0M197.4 414.2h0M198.1 412.1h0M191.5 416.5h0M198.0 413.6h0M195.5 414.1h0M196.3 415.4h0M196.3 415.1h0M196.1 415.9h0M194.7 414.1h0M190.6 423.7h0M195.8 416.3h0M198.6 412.5h0M194.4 419.1h0M194.4 414.4h0M187.6 419.3h0M197.2 413.7h0M198.3 412.8h0M195.9 415.3h0M193.1 415.7h0M197.6 413.2h0M192.1 421.9h0M197.7 413.5h0M191.9 416.7h0M195.6 416.4h0M189.4 418.4h0M195.4 417.2h0M195.7 416.0h0M195.4 415.0h0M193.4 420.4h0M194.9 414.6h0M194.8 418.0h0M192.5 416.4h0M192.9 416.0h0M190.3 418.0h0M195.5 415.3h0M188.1 419.2h0"/><path stroke="#ff000e" d="M194.8 417.7h0M193.0 420.5h0M194.3 415.1h0M194.8 415.1h0M187.0 421.0h0M194.5 418.1h0M192.4 421.0h0M195.2 416.9h0M195.0 416.1h0M194.5 415.3h0M191.6 417.1h0M193.9 419.0h0M194.8 415.5h0M194.0 415.5h0M193.9 418.5h0M184.7 423.4h0M192.0 417.2h0M194.4 417.7h0M192.4 417.2h0M194.9 416.7h0M193.2 419.9h0M193.2 416.8h0M193.5 416.1h0M193.8 418.2h0M194.5 415.8h0M193.7 418.8h0M187.9 419.5h0M193.4 419.4h0M192.4 420.3h0M193.8 416.0h0M194.7 416.6h0M191.4 421.8h0M193.5 416.3h0M194.1 417.5h0M193.7 418.3h0M192.9 417.3h0M193.7 417.3h0M193.6 416.8h0M194.3 416.8h0M193.1 419.4h0M191.8 421.0h0M193.4 417.8h0M190.9 422.4h0M194.0 416.9h0M194.1 416.6h0M192.5 420.0h0M185.2 423.2h0M187.9 426.0h0"/><path stroke="#ff1200" d="M192.7 419.4h0M191.5 417.5h0M192.8 417.8h0M192.0 420.7h0M191.0 422.0h0M192.0 417.6h0M193.0 418.9h0M191.8 420.1h0M192.8 418.3h0M192.6 419.0h0M192.4 417.8h0M191.4 421.3h0M189.2 419.2h0M190.4 422.9h0M191.9 419.4h0M185.1 423.4h0M192.3 418.5h0M192.2 418.9h0M190.6 418.5h0"/><path stroke="#ff3300" d="M191.6 418.1h0M191.8 418.2h0M187.4 420.9h0M188.9 424.8h0M191.6 419.6h0M188.4 419.7h0M191.5 420.8h0M188.3 425.3h0M189.7 419.1h0M191.0 418.6h0M185.5 423.2h0M192.0 418.7h0M191.5 419.0h0M191.5 420.5h0M189.8 419.2h0M191.5 418.7h0M189.5 423.8h0M191.4 419.8h0M187.5 420.6h0"/><path stroke="#ff5300" d="M189.9 423.4h0M190.4 422.5h0M190.8 421.4h0M190.7 419.2h0M191.0 419.1h0M188.2 420.2h0"/><path stroke="#ff7300" d="M190.9 419.6h0M191.0 420.8h0M190.9 420.0h0M187.2 421.6h0M190.1 422.7h0M189.1 419.6h0M190.9 420.7h0M186.9 426.4h0"/><path stroke="#ff9400" d="M190.3 421.8h0M190.3 419.5h0M186.7 422.1h0M189.7 419.6h0M190.1 419.6h0M187.3 425.8h0M189.0 424.3h0M189.5 423.3h0M186.2 422.7h0M189.8 422.9h0M190.5 419.8h0"/><path stroke="#ffb400" d="M188.3 424.8h0M187.8 425.3h0M190.5 421.4h0M188.6 420.1h0"/><path stroke="#ffd500" d="M186.9 426.2h0M188.2 420.6h0M185.2 424.2h0M190.3 420.3h0M186.9 422.0h0M190.4 420.8h0"/><path stroke="#fff500" d="M189.8 420.0h0"/><path stroke="#e8ff00" d="M189.1 420.2h0M186.3 426.4h0M189.3 420.2h0"/><path stroke="#cdff00" d="M187.7 421.6h0M188.8 424.0h0M189.8 421.8h0"/><path stroke="#adff00" d="M189.9 420.5h0M188.3 424.4h0M186.2 423.1h0M188.2 421.2h0M190.0 421.5h0M186.0 426.5h0"/><path stroke="#8dff00" d="M188.6 420.7h0M190.0 421.1h0M186.6 422.7h0M187.5 425.4h0M187.8 424.9h0"/><path stroke="#6cff00" d="M189.5 422.8h0M185.1 424.7h0M189.4 420.6h0"/><path stroke="#4cff00" d="M189.2 420.7h0M184.7 425.1h0"/><path stroke="#2bff00" d="M184.7 426.4h0"/><path stroke="#0bff00" d="M185.6 424.1h0M188.8 423.4h0M185.2 426.4h0M185.5 426.5h0M189.4 422.4h0"/><path stroke="#00ff16" d="M189.4 421.1h0M186.5 425.8h0M188.6 421.1h0M184.7 425.8h0M188.1 421.6h0M187.6 422.2h0"/><path stroke="#00ff36" d="M184.7 425.6h0M189.3 421.8h0M189.3 421.7h0M188.4 423.9h0M188.9 421.2h0"/><path stroke="#00ff56" d="M186.2 423.6h0"/><path stroke="#00ff76" d="M185.1 425.2h0M187.0 422.7h0M185.0 425.8h0"/><path stroke="#00ff91" d="M187.9 424.3h0M186.8 425.4h0M186.6 423.2h0M185.1 425.6h0"/><path stroke="#00ffb1" d="M188.8 423.0h0M185.8 425.8h0M187.5 425.0h0M185.7 425.8h0"/><path stroke="#00ffd2" d="M188.7 421.7h0M189.0 421.6h0"/><path stroke="#00fff2" d="M185.7 424.7h0M188.1 422.1h0"/><path stroke="#00ecff" d="M188.3 423.3h0M188.9 422.4h0M189.0 422.0h0"/><path stroke="#00aaff" d="M188.6 422.1h0M187.7 422.7h0"/><path stroke="#008aff" d="M186.1 424.1h0M187.9 423.8h0M186.3 425.3h0M185.7 425.4h0M185.6 425.1h0"/><path stroke="#0069ff" d="M188.5 422.8h0M188.3 422.7h0"/><path stroke="#0049ff" d="M188.1 422.6h0M185.8 425.4h0M187.2 423.1h0"/><path stroke="#0028ff" d="M186.7 423.6h0M187.4 424.4h0"/><path stroke="#000dff" d="M186.9 424.9h0M187.8 423.5h0M187.8 423.1h0"/><path stroke="#1400ff" d="M187.6 423.1h0"/><path stroke="#3400ff" d="M186.0 424.5h0"/><path stroke="#5500ff" d="M186.2 424.9h0"/><path stroke="#7600ff" d="M186.3 425.0h0M187.3 423.9h0M187.4 423.6h0"/><path stroke="#9600ff" d="M187.1 423.5h0M186.6 424.2h0"/><path stroke="#b700ff" d="M187.0 424.3h0M186.7 424.4h0M186.8 424.0h0"/></g><line x1="184.5" y1="426.5" x2="294.5" y2="322.3" stroke="#5c5ce8" stroke-width="0.65"/><rect x="184.5" y="314.5" width="110.0" height="112.0" fill="none" stroke="#333" stroke-width="0.9"/><line x1="184.5" y1="426.5" x2="184.5" y2="427.7" stroke="#333" stroke-width="0.6"/><line x1="183.3" y1="426.5" x2="184.5" y2="426.5" stroke="#333" stroke-width="0.6"/><text x="184.5" y="433.6" text-anchor="middle" class="tk">0</text><text x="182.5" y="428.8" text-anchor="end" class="tk">0</text><line x1="212.0" y1="426.5" x2="212.0" y2="427.7" stroke="#333" stroke-width="0.6"/><line x1="183.3" y1="398.5" x2="184.5" y2="398.5" stroke="#333" stroke-width="0.6"/><text x="212.0" y="433.6" text-anchor="middle" class="tk">1000</text><text x="182.5" y="400.8" text-anchor="end" class="tk">1000</text><line x1="239.5" y1="426.5" x2="239.5" y2="427.7" stroke="#333" stroke-width="0.6"/><line x1="183.3" y1="370.5" x2="184.5" y2="370.5" stroke="#333" stroke-width="0.6"/><text x="239.5" y="433.6" text-anchor="middle" class="tk">2000</text><text x="182.5" y="372.8" text-anchor="end" class="tk">2000</text><line x1="267.0" y1="426.5" x2="267.0" y2="427.7" stroke="#333" stroke-width="0.6"/><line x1="183.3" y1="342.5" x2="184.5" y2="342.5" stroke="#333" stroke-width="0.6"/><text x="267.0" y="433.6" text-anchor="middle" class="tk">3000</text><text x="182.5" y="344.8" text-anchor="end" class="tk">3000</text><line x1="294.5" y1="426.5" x2="294.5" y2="427.7" stroke="#333" stroke-width="0.6"/><line x1="183.3" y1="314.5" x2="184.5" y2="314.5" stroke="#333" stroke-width="0.6"/><text x="294.5" y="433.6" text-anchor="middle" class="tk">4000</text><text x="182.5" y="316.8" text-anchor="end" class="tk">4000</text><text x="239.5" y="439.0" text-anchor="middle" class="al">Q<tspan font-size="3.4" dy="0.9">o</tspan><tspan dy="-0.9"> (m</tspan><tspan font-size="3.4" dy="-1.2">3</tspan><tspan dy="1.2">/s)</tspan></text><text transform="translate(167.7 370.5) rotate(-90)" text-anchor="middle" class="al">Q<tspan font-size="3.4" dy="0.9">s</tspan><tspan dy="-0.9"> (m</tspan><tspan font-size="3.4" dy="-1.2">3</tspan><tspan dy="1.2">/s)</tspan></text><linearGradient id="g5" x1="0" y1="0" x2="0" y2="1"><stop offset="0.000" stop-color="#ff00bf"/><stop offset="0.050" stop-color="#fe00ff"/><stop offset="0.100" stop-color="#b700ff"/><stop offset="0.150" stop-color="#7000ff"/><stop offset="0.200" stop-color="#2a00ff"/><stop offset="0.250" stop-color="#0018ff"/><stop offset="0.300" stop-color="#005eff"/><stop offset="0.350" stop-color="#00a5ff"/><stop offset="0.400" stop-color="#00ecff"/><stop offset="0.450" stop-color="#00ffcc"/><stop offset="0.500" stop-color="#00ff8c"/><stop offset="0.550" stop-color="#00ff46"/><stop offset="0.600" stop-color="#00ff00"/><stop offset="0.650" stop-color="#46ff00"/><stop offset="0.700" stop-color="#8dff00"/><stop offset="0.750" stop-color="#cdff00"/><stop offset="0.800" stop-color="#ffea00"/><stop offset="0.850" stop-color="#ffa400"/><stop offset="0.900" stop-color="#ff5e00"/><stop offset="0.950" stop-color="#ff1800"/><stop offset="1.000" stop-color="#ff0029"/></linearGradient><path d="M298.25 317.00L299.50 321.82L299.50 418.18L298.25 423.00L297.00 418.18L297.00 321.82Z" fill="url(#g5)"/><line x1="299.5" y1="323.9" x2="300.5" y2="323.9" stroke="#333" stroke-width="0.5"/><text x="301.6" y="326.3" class="cb" textLength="14.4" lengthAdjust="spacingAndGlyphs">0.006</text><line x1="299.5" y1="339.8" x2="300.5" y2="339.8" stroke="#333" stroke-width="0.5"/><text x="301.6" y="342.2" class="cb" textLength="14.4" lengthAdjust="spacingAndGlyphs">0.005</text><line x1="299.5" y1="356.0" x2="300.5" y2="356.0" stroke="#333" stroke-width="0.5"/><text x="301.6" y="358.4" class="cb" textLength="14.4" lengthAdjust="spacingAndGlyphs">0.004</text><line x1="299.5" y1="371.9" x2="300.5" y2="371.9" stroke="#333" stroke-width="0.5"/><text x="301.6" y="374.3" class="cb" textLength="14.4" lengthAdjust="spacingAndGlyphs">0.003</text><line x1="299.5" y1="387.8" x2="300.5" y2="387.8" stroke="#333" stroke-width="0.5"/><text x="301.6" y="390.2" class="cb" textLength="14.4" lengthAdjust="spacingAndGlyphs">0.002</text><line x1="299.5" y1="403.6" x2="300.5" y2="403.6" stroke="#333" stroke-width="0.5"/><text x="301.6" y="406.0" class="cb" textLength="14.4" lengthAdjust="spacingAndGlyphs">0.001</text><line x1="25.5" y1="571.5" x2="134.5" y2="459.5" stroke="#999" stroke-width="0.65"/><clipPath id="c7"><rect x="25.50" y="459.50" width="109.00" height="112.00"/></clipPath><g clip-path="url(#c7)" stroke-width="1.45" stroke-linecap="round" fill="none"><path stroke="#ff0029" d="M73.9 541.2h0M57.4 555.7h0M89.5 496.5h0M83.8 510.6h0M56.0 552.4h0M56.0 528.5h0M90.4 502.8h0M46.8 534.5h0M102.4 531.0h0M106.0 480.2h0M103.4 504.1h0M70.5 535.8h0M86.0 523.8h0M94.8 495.7h0M76.9 512.2h0M72.6 512.3h0M99.5 488.4h0M83.0 504.7h0M85.2 502.4h0M35.0 549.7h0M70.6 515.1h0M84.7 519.7h0M53.0 552.5h0M64.8 529.8h0M102.7 487.9h0M100.6 497.7h0M97.2 491.9h0M61.1 526.9h0M80.0 518.6h0M26.7 556.9h0M49.5 559.2h0M90.5 511.1h0M100.5 492.1h0M79.3 523.3h0M101.9 490.3h0M59.1 532.6h0M80.6 525.2h0M54.4 549.4h0M68.3 541.9h0M70.7 521.7h0M84.7 507.7h0M38.3 547.0h0M69.1 522.9h0M99.8 509.6h0M101.5 508.7h0M83.1 514.3h0M84.6 515.4h0M69.8 532.4h0M84.2 528.9h0M63.0 531.5h0M65.5 525.5h0M82.8 517.0h0M82.2 518.7h0M68.2 532.5h0M56.8 535.9h0M50.0 552.8h0M66.3 533.1h0M66.7 541.0h0M58.1 547.1h0M67.7 538.6h0M50.8 537.4h0M77.8 530.5h0M78.4 531.7h0M46.7 559.2h0M43.2 562.4h0M81.7 527.3h0M65.8 534.6h0M73.0 528.4h0M73.9 527.6h0M86.7 505.0h0M66.3 539.3h0M47.5 537.6h0M60.3 544.3h0M85.9 506.0h0M82.8 527.7h0M60.9 540.8h0M59.9 529.5h0M55.8 543.5h0M54.7 544.9h0M35.1 552.6h0M53.7 539.5h0M52.1 549.3h0M56.7 538.3h0M56.2 545.4h0M44.0 561.2h0M98.2 495.9h0M57.3 539.2h0M98.1 496.9h0M61.2 531.4h0M56.1 533.5h0M40.3 547.4h0M61.2 534.0h0M57.3 545.9h0M55.0 541.4h0M42.9 544.1h0M63.8 535.8h0M45.2 545.0h0M93.8 491.9h0M94.7 492.2h0M54.4 547.2h0M48.6 546.0h0M64.3 520.2h0M63.6 520.1h0M52.5 536.8h0M50.0 540.9h0M60.4 530.6h0M52.4 547.1h0M54.8 533.8h0M49.7 541.6h0M60.2 538.4h0M48.5 554.5h0M57.1 543.5h0M51.1 550.6h0M92.9 510.4h0M51.8 540.8h0M92.3 510.2h0M41.7 564.7h0M28.5 562.5h0M41.4 564.2h0M52.0 546.1h0M55.3 534.7h0M70.9 524.5h0M70.4 524.6h0M54.1 541.2h0M53.6 546.8h0M46.2 543.3h0M56.6 540.9h0M45.3 558.1h0M48.4 538.4h0M42.6 545.0h0M50.7 546.6h0M49.2 556.9h0M63.7 526.6h0M72.6 518.2h0M65.5 536.3h0M57.6 541.7h0M63.8 526.7h0M47.5 541.4h0M32.2 557.5h0M39.5 565.4h0M73.1 517.4h0M48.5 539.9h0M48.6 540.4h0M61.1 536.0h0M50.5 547.0h0M42.8 560.5h0M47.3 541.9h0M65.5 536.1h0M60.7 539.6h0M72.5 517.3h0M41.9 561.4h0M48.7 544.4h0M49.5 543.4h0M57.3 544.4h0M55.1 536.0h0M63.7 537.1h0M44.1 543.1h0M60.8 539.1h0M55.2 536.9h0M46.4 542.7h0M54.3 536.6h0M59.1 543.9h0M60.9 534.8h0M60.7 535.5h0M61.4 537.4h0M49.1 544.3h0M57.3 541.1h0M41.8 546.6h0M61.1 537.3h0M45.3 541.8h0M40.6 546.1h0M45.2 559.4h0M52.7 541.0h0M49.5 538.6h0M44.5 542.9h0M38.1 550.3h0M47.7 552.8h0M39.3 564.8h0M53.2 541.7h0M49.1 556.1h0M45.1 542.0h0M50.4 543.2h0M52.9 538.2h0M50.8 548.8h0M46.0 545.0h0M50.5 548.6h0M41.6 545.6h0M52.7 542.7h0M42.6 548.1h0M44.6 558.6h0M39.3 549.7h0M43.4 546.7h0M48.5 556.0h0M42.8 547.3h0M58.4 544.4h0M49.9 551.2h0M44.4 559.5h0M41.2 545.9h0M48.1 552.2h0M53.4 537.7h0M53.4 537.9h0M46.6 545.9h0M46.4 556.6h0M47.5 556.4h0M37.5 551.4h0M33.8 568.5h0M49.1 548.1h0M46.9 545.4h0M51.1 544.3h0M49.7 549.0h0M53.4 543.1h0M31.2 559.8h0M39.6 562.9h0M30.4 571.5h0M35.6 567.1h0M36.5 566.7h0M43.1 559.7h0M36.5 552.1h0M38.6 550.6h0M41.2 548.9h0M48.7 547.3h0M48.6 548.6h0M53.0 543.2h0M47.5 548.9h0M35.4 554.0h0M43.3 558.9h0M51.6 544.3h0M43.7 548.3h0M35.9 566.8h0M52.3 544.7h0M26.1 566.0h0M47.9 547.6h0M53.0 543.9h0M33.1 555.9h0M47.9 547.9h0M47.0 551.2h0M43.2 558.9h0M45.6 547.8h0M52.8 544.5h0M47.7 551.5h0M49.9 550.0h0M45.4 555.8h0M48.1 549.7h0M49.3 550.5h0M46.6 552.3h0M48.4 551.0h0M46.8 556.1h0M45.1 549.3h0M40.7 550.0h0M44.2 547.8h0M49.2 550.5h0M33.8 555.2h0M44.5 555.8h0M46.9 549.4h0M40.4 561.6h0M36.8 565.7h0M46.0 551.8h0M45.1 548.5h0M46.7 549.7h0M46.5 550.1h0M45.4 555.5h0M46.0 556.0h0M42.4 559.1h0M41.6 559.5h0M35.9 554.1h0M45.3 551.7h0M46.4 552.8h0M32.3 569.1h0M42.5 549.5h0M39.8 561.6h0M47.3 555.4h0M40.8 560.7h0M47.3 555.1h0M47.5 550.8h0M48.1 550.5h0M36.2 565.8h0M47.1 550.4h0M30.0 561.9h0M44.8 547.5h0M44.7 547.8h0M41.2 549.7h0M41.4 549.4h0M42.2 549.3h0M46.0 552.9h0M37.3 565.1h0M41.5 559.2h0M39.3 561.5h0M26.5 565.8h0M44.2 552.6h0M38.7 564.2h0M44.7 554.9h0M41.2 551.1h0M40.6 560.1h0M43.5 549.6h0M45.7 552.8h0M44.9 551.3h0M43.2 550.1h0M42.7 551.4h0M43.7 556.7h0M45.1 552.4h0M41.6 553.2h0M42.2 551.3h0M41.3 549.8h0M41.8 550.5h0M41.2 552.1h0M45.9 554.3h0M40.5 560.5h0M44.1 549.4h0M46.1 554.1h0M42.2 549.8h0M43.8 556.0h0M39.9 560.8h0M41.9 553.7h0M46.6 554.4h0M34.7 555.2h0M43.0 553.1h0M32.9 568.3h0M40.6 554.2h0M42.1 558.4h0M42.6 551.9h0M46.8 555.1h0M43.6 552.2h0M38.8 563.5h0M33.0 558.1h0M39.4 551.2h0M35.3 555.2h0M37.2 552.7h0M37.7 552.4h0M33.1 568.1h0M33.5 556.6h0M43.7 550.1h0M44.4 549.6h0M34.5 555.5h0M33.8 556.2h0M27.8 564.4h0M44.3 554.4h0M41.5 552.5h0M46.4 554.8h0M40.1 551.0h0M42.4 552.5h0M35.1 566.4h0M43.0 556.8h0M43.3 553.4h0M42.5 553.6h0M43.7 551.7h0M44.0 553.9h0M44.3 550.6h0M44.3 549.9h0M42.0 552.5h0M40.3 554.4h0M44.2 551.3h0M44.0 550.4h0M39.4 560.6h0M37.5 564.6h0M40.5 551.6h0M41.6 558.3h0M39.8 553.7h0M41.9 554.3h0M36.1 555.5h0M42.0 558.1h0M38.4 562.8h0M35.4 555.7h0M38.4 563.4h0M39.9 552.7h0M39.8 559.7h0M41.5 554.6h0M43.6 555.1h0M38.1 563.6h0M38.0 556.5h0M42.6 554.2h0M32.0 569.1h0M38.2 552.7h0M43.8 554.3h0M36.7 554.4h0M38.5 552.4h0M39.6 553.9h0M41.2 558.3h0M40.3 555.0h0M36.8 553.8h0M39.9 551.6h0M37.4 564.2h0M43.1 555.9h0M42.7 554.3h0M34.7 556.1h0M42.8 556.7h0M39.5 551.6h0M37.3 553.2h0M40.4 555.4h0M43.4 554.0h0M34.5 556.5h0M39.8 551.8h0M37.4 557.0h0M43.1 555.0h0M39.3 551.8h0M35.2 556.1h0M43.2 554.3h0M39.9 556.0h0M39.1 560.2h0M37.2 553.6h0M36.3 564.9h0M41.5 555.2h0M42.9 555.4h0M36.4 556.5h0M39.4 553.6h0M39.3 553.0h0M42.3 555.2h0M38.3 561.5h0M32.2 559.8h0M39.5 552.5h0M37.2 555.9h0M39.2 555.9h0M33.7 557.7h0M42.2 557.4h0M41.2 555.4h0M39.1 552.6h0M39.6 555.4h0M36.9 564.4h0M37.9 557.4h0M38.9 557.1h0M35.6 556.5h0M33.8 557.3h0M40.5 555.8h0M38.3 557.4h0M41.3 557.9h0M41.3 555.4h0M37.1 555.6h0M37.3 553.6h0M34.7 557.2h0M38.1 555.8h0M42.3 555.5h0M37.3 555.6h0M39.3 559.3h0M39.8 556.5h0M36.5 556.9h0M39.3 555.2h0M40.5 556.3h0M37.2 554.6h0M37.1 554.8h0M38.9 554.1h0M36.9 563.9h0M34.1 566.9h0M38.7 553.7h0M36.0 557.0h0M38.2 553.7h0M30.3 570.4h0M36.3 564.5h0M37.4 562.9h0M38.2 554.0h0M38.0 562.0h0M39.0 559.4h0M42.2 556.2h0M41.3 557.4h0M39.0 555.4h0M35.9 557.6h0M34.3 557.7h0M37.4 557.6h0M36.7 557.3h0M39.0 555.1h0M40.9 556.7h0M41.7 557.2h0M38.5 555.4h0M37.5 562.6h0M41.7 556.2h0M35.8 557.9h0M38.2 554.6h0M33.4 558.5h0M35.4 558.1h0M36.0 564.5h0M41.8 556.9h0M39.3 558.8h0M38.2 554.9h0M40.6 557.8h0M41.0 557.4h0M38.4 555.1h0M41.0 557.1h0M27.3 565.6h0M42.0 556.6h0M41.6 556.4h0M35.0 558.2h0M29.3 563.1h0M38.6 558.1h0M40.4 557.2h0M40.1 557.0h0M38.3 560.3h0M39.1 557.6h0M38.9 558.7h0M33.2 559.2h0M36.0 564.1h0M34.2 558.2h0M31.6 561.1h0M36.6 563.5h0M38.3 560.0h0M38.3 559.6h0M35.5 564.9h0M34.4 558.1h0M38.3 559.2h0M31.9 568.5h0M39.6 557.4h0M40.4 557.4h0M39.9 558.5h0M35.7 558.6h0M34.8 565.3h0M34.9 558.6h0M34.0 558.4h0M31.5 561.7h0M37.3 558.2h0M33.6 566.8h0M36.1 558.4h0M39.7 558.3h0M36.8 562.9h0M40.2 557.8h0M40.0 557.7h0M36.6 558.1h0M30.2 562.6h0M38.0 558.7h0M36.9 558.2h0M35.2 559.1h0M37.3 561.9h0M30.1 570.3h0M32.2 560.7h0M34.5 565.8h0M35.5 564.7h0M39.6 557.8h0M34.3 558.9h0M35.3 559.1h0M25.9 567.6h0M38.0 558.8h0M34.8 565.0h0M34.6 559.4h0M37.9 560.9h0M37.1 562.1h0M36.4 558.6h0M37.3 561.7h0M33.5 559.2h0M36.6 562.9h0M31.8 561.1h0M33.9 566.5h0M35.0 559.7h0M37.8 560.5h0M33.8 559.2h0M34.3 565.6h0M36.8 558.5h0M37.9 559.9h0M37.6 559.2h0M32.4 560.5h0M36.2 559.2h0M29.5 570.9h0M37.4 561.2h0M35.7 559.6h0M33.4 566.6h0M35.0 560.0h0M35.3 560.2h0M34.0 559.6h0M33.6 559.7h0M37.6 560.3h0M35.9 563.4h0M37.0 559.2h0M35.8 559.6h0M36.6 559.1h0M33.2 560.2h0M37.0 561.5h0M35.7 560.3h0M30.5 562.7h0M35.8 560.3h0M37.3 559.7h0M36.3 561.0h0M36.2 561.2h0M34.5 564.9h0M36.8 560.8h0M36.1 562.9h0M31.4 562.2h0M35.6 560.8h0M33.9 565.9h0M37.3 560.2h0M36.1 561.5h0M36.8 559.3h0M36.4 562.4h0M32.9 566.9h0M36.0 559.9h0M36.8 560.7h0M33.2 566.6h0M35.4 564.0h0M33.6 566.1h0M36.3 559.6h0M36.3 561.8h0M37.2 559.9h0M33.6 560.2h0M34.9 560.7h0M36.6 560.2h0M34.9 564.3h0M28.6 564.4h0M34.5 560.7h0M35.5 561.4h0M35.9 561.9h0M33.2 560.6h0M32.1 561.7h0M29.4 563.6h0M32.7 561.1h0M35.8 562.5h0M34.8 561.1h0M30.1 563.1h0M33.9 565.4h0M35.3 563.3h0M33.7 560.6h0M33.9 560.6h0M34.5 560.8h0M35.3 561.8h0M31.1 562.5h0M32.6 561.5h0M34.9 563.8h0M33.2 561.1h0M32.0 562.1h0M33.3 561.1h0M34.0 561.2h0M34.6 561.7h0M35.4 562.7h0M35.2 562.2h0M31.9 567.8h0M33.8 564.8h0M32.9 561.6h0M30.7 563.2h0M31.1 568.8h0M34.4 564.1h0M34.9 563.3h0M34.0 561.5h0M31.2 562.9h0M34.4 562.0h0M33.4 561.6h0M33.5 565.4h0M32.5 567.0h0M30.2 563.3h0M31.6 562.6h0M35.0 562.7h0M34.8 562.9h0M32.8 566.0h0M32.5 562.2h0M33.8 564.5h0M34.3 562.3h0M33.8 562.2h0M33.2 562.1h0M34.3 563.3h0M33.4 562.0h0M31.8 567.6h0M34.4 563.1h0M33.3 564.9h0"/><path stroke="#ff000e" d="M32.1 562.7h0M34.0 563.9h0M33.8 562.6h0M32.9 565.3h0M30.8 563.4h0M31.3 563.1h0M33.8 563.3h0M33.9 563.2h0M32.6 562.6h0M32.5 565.7h0M33.5 562.5h0M32.8 562.5h0M33.4 564.5h0M33.4 563.8h0M33.4 563.1h0M32.7 562.8h0M33.5 563.3h0M30.3 563.6h0M32.5 566.0h0M29.4 564.1h0M33.2 563.4h0M33.0 564.8h0M32.9 563.1h0M32.0 563.1h0M28.0 565.6h0M32.9 564.3h0M32.9 564.1h0M30.5 569.4h0M32.4 565.0h0M31.6 563.6h0M32.4 563.7h0M31.8 566.8h0M31.9 563.7h0M32.3 563.8h0M28.6 565.2h0M31.4 568.0h0M32.5 564.5h0M31.8 566.4h0M32.2 565.0h0M26.6 567.7h0"/><path stroke="#ff1200" d="M31.8 564.0h0M31.7 564.1h0M31.9 566.0h0M31.8 565.6h0M30.9 564.2h0M32.0 564.6h0M30.7 564.1h0M30.2 564.1h0M30.4 569.2h0M31.7 564.6h0M27.4 566.9h0M30.9 568.4h0M26.2 568.5h0M27.6 566.5h0M31.3 567.4h0M31.3 565.0h0"/><path stroke="#ff3300" d="M28.2 566.1h0M30.9 564.5h0M26.6 567.8h0M29.5 564.7h0M28.8 570.4h0M31.4 565.7h0M31.4 566.9h0M28.7 565.7h0M29.3 569.9h0M29.8 569.3h0M31.4 566.2h0M31.4 566.4h0M29.2 565.2h0M30.4 564.6h0M30.2 564.6h0"/><path stroke="#ff5300" d="M30.9 567.9h0M30.9 565.2h0"/><path stroke="#ff7300" d="M27.2 567.6h0M30.8 565.5h0M30.8 567.3h0M30.4 568.5h0M29.6 565.0h0M30.3 565.2h0"/><path stroke="#ff9400" d="M28.1 566.5h0M30.2 565.2h0M30.9 566.1h0M28.6 566.1h0M29.1 565.7h0M30.8 566.9h0M30.9 566.6h0"/><path stroke="#ffb400" d="M29.9 568.8h0M26.6 568.5h0M27.3 571.3h0M27.9 570.8h0M29.3 569.3h0"/><path stroke="#ffd500" d="M28.3 570.5h0M28.9 569.9h0M30.3 565.6h0M30.3 567.9h0"/><path stroke="#fff500" d="M26.2 569.1h0M29.5 565.6h0M29.8 565.5h0"/><path stroke="#e8ff00" d="M30.3 566.2h0M30.4 567.3h0"/><path stroke="#cdff00" d="M29.1 566.0h0M28.5 566.6h0M30.0 568.3h0M30.4 566.5h0M28.2 567.2h0M27.2 568.1h0M30.3 566.8h0"/><path stroke="#adff00" d="M27.6 567.7h0"/><path stroke="#8dff00" d="M26.8 571.3h0M30.0 566.1h0M29.6 566.1h0"/><path stroke="#6cff00" d="M29.4 569.0h0"/><path stroke="#4cff00" d="M29.8 567.8h0M28.8 569.4h0M27.4 570.9h0"/><path stroke="#2bff00" d="M29.2 566.6h0M29.9 566.7h0M28.4 570.0h0M27.9 570.4h0M26.3 571.3h0"/><path stroke="#0bff00" d="M30.0 567.5h0M29.5 566.6h0M26.1 569.7h0M25.7 571.3h0M29.9 567.1h0M26.0 571.3h0"/><path stroke="#00ff16" d="M28.6 567.1h0M25.7 570.0h0"/><path stroke="#00ff36" d="M29.3 568.3h0M28.0 567.6h0"/><path stroke="#00ff56" d="M26.7 569.0h0"/><path stroke="#00ff76" d="M29.3 567.0h0M27.7 568.2h0M29.2 567.2h0M25.7 570.9h0M27.2 568.6h0"/><path stroke="#00ff91" d="M25.7 570.5h0M29.5 567.8h0"/><path stroke="#00ffb1" d="M29.5 567.6h0M26.8 570.9h0M29.0 568.9h0"/><path stroke="#00ffd2" d="M26.2 570.9h0"/><path stroke="#00fff2" d="M28.6 567.7h0M26.2 570.2h0M26.4 570.8h0M28.9 567.7h0"/><path stroke="#00ecff" d="M28.3 569.4h0"/><path stroke="#00cbff" d="M26.0 570.5h0"/><path stroke="#00aaff" d="M27.4 570.4h0M28.0 569.9h0M28.9 568.5h0M28.8 568.2h0M28.2 568.2h0"/><path stroke="#0069ff" d="M26.7 569.7h0M28.4 568.0h0"/><path stroke="#0049ff" d="M27.6 568.6h0"/><path stroke="#0028ff" d="M27.1 569.1h0"/><path stroke="#000dff" d="M28.5 568.8h0M28.5 568.5h0M26.5 570.4h0"/><path stroke="#1400ff" d="M26.9 570.5h0"/><path stroke="#3400ff" d="M26.7 570.2h0M28.1 568.5h0"/><path stroke="#5500ff" d="M27.9 569.5h0"/><path stroke="#7600ff" d="M27.4 569.8h0"/><path stroke="#9600ff" d="M27.9 569.2h0M27.7 569.1h0"/><path stroke="#b700ff" d="M27.1 569.7h0M27.2 569.9h0M27.4 569.6h0"/></g><line x1="25.5" y1="571.5" x2="108.6" y2="492.9" stroke="#5c5ce8" stroke-width="0.65"/><rect x="25.5" y="459.5" width="109.0" height="112.0" fill="none" stroke="#333" stroke-width="0.9"/><line x1="25.5" y1="571.5" x2="25.5" y2="572.7" stroke="#333" stroke-width="0.6"/><line x1="24.3" y1="571.5" x2="25.5" y2="571.5" stroke="#333" stroke-width="0.6"/><text x="25.5" y="578.6" text-anchor="middle" class="tk">0</text><text x="23.5" y="573.8" text-anchor="end" class="tk">0</text><line x1="52.8" y1="571.5" x2="52.8" y2="572.7" stroke="#333" stroke-width="0.6"/><line x1="24.3" y1="543.5" x2="25.5" y2="543.5" stroke="#333" stroke-width="0.6"/><text x="52.8" y="578.6" text-anchor="middle" class="tk">1000</text><text x="23.5" y="545.8" text-anchor="end" class="tk">1000</text><line x1="80.0" y1="571.5" x2="80.0" y2="572.7" stroke="#333" stroke-width="0.6"/><line x1="24.3" y1="515.5" x2="25.5" y2="515.5" stroke="#333" stroke-width="0.6"/><text x="80.0" y="578.6" text-anchor="middle" class="tk">2000</text><text x="23.5" y="517.8" text-anchor="end" class="tk">2000</text><line x1="107.2" y1="571.5" x2="107.2" y2="572.7" stroke="#333" stroke-width="0.6"/><line x1="24.3" y1="487.5" x2="25.5" y2="487.5" stroke="#333" stroke-width="0.6"/><text x="107.2" y="578.6" text-anchor="middle" class="tk">3000</text><text x="23.5" y="489.8" text-anchor="end" class="tk">3000</text><line x1="134.5" y1="571.5" x2="134.5" y2="572.7" stroke="#333" stroke-width="0.6"/><line x1="24.3" y1="459.5" x2="25.5" y2="459.5" stroke="#333" stroke-width="0.6"/><text x="134.5" y="578.6" text-anchor="middle" class="tk">4000</text><text x="23.5" y="461.8" text-anchor="end" class="tk">4000</text><text x="80.0" y="584.0" text-anchor="middle" class="al">Q<tspan font-size="3.4" dy="0.9">o</tspan><tspan dy="-0.9"> (m</tspan><tspan font-size="3.4" dy="-1.2">3</tspan><tspan dy="1.2">/s)</tspan></text><text transform="translate(8.7 515.5) rotate(-90)" text-anchor="middle" class="al">Q<tspan font-size="3.4" dy="0.9">s</tspan><tspan dy="-0.9"> (m</tspan><tspan font-size="3.4" dy="-1.2">3</tspan><tspan dy="1.2">/s)</tspan></text><linearGradient id="g6" x1="0" y1="0" x2="0" y2="1"><stop offset="0.000" stop-color="#ff00bf"/><stop offset="0.050" stop-color="#fe00ff"/><stop offset="0.100" stop-color="#b700ff"/><stop offset="0.150" stop-color="#7000ff"/><stop offset="0.200" stop-color="#2a00ff"/><stop offset="0.250" stop-color="#0018ff"/><stop offset="0.300" stop-color="#005eff"/><stop offset="0.350" stop-color="#00a5ff"/><stop offset="0.400" stop-color="#00ecff"/><stop offset="0.450" stop-color="#00ffcc"/><stop offset="0.500" stop-color="#00ff8c"/><stop offset="0.550" stop-color="#00ff46"/><stop offset="0.600" stop-color="#00ff00"/><stop offset="0.650" stop-color="#46ff00"/><stop offset="0.700" stop-color="#8dff00"/><stop offset="0.750" stop-color="#cdff00"/><stop offset="0.800" stop-color="#ffea00"/><stop offset="0.850" stop-color="#ffa400"/><stop offset="0.900" stop-color="#ff5e00"/><stop offset="0.950" stop-color="#ff1800"/><stop offset="1.000" stop-color="#ff0029"/></linearGradient><path d="M138.60 462.00L139.90 466.82L139.90 563.18L138.60 568.00L137.30 563.18L137.30 466.82Z" fill="url(#g6)"/><line x1="139.9" y1="469.9" x2="140.9" y2="469.9" stroke="#333" stroke-width="0.5"/><text x="142.0" y="472.3" class="cb" textLength="14.4" lengthAdjust="spacingAndGlyphs">0.006</text><line x1="139.9" y1="485.8" x2="140.9" y2="485.8" stroke="#333" stroke-width="0.5"/><text x="142.0" y="488.1" class="cb" textLength="14.4" lengthAdjust="spacingAndGlyphs">0.005</text><line x1="139.9" y1="501.6" x2="140.9" y2="501.6" stroke="#333" stroke-width="0.5"/><text x="142.0" y="504.0" class="cb" textLength="14.4" lengthAdjust="spacingAndGlyphs">0.004</text><line x1="139.9" y1="517.5" x2="140.9" y2="517.5" stroke="#333" stroke-width="0.5"/><text x="142.0" y="519.9" class="cb" textLength="14.4" lengthAdjust="spacingAndGlyphs">0.003</text><line x1="139.9" y1="532.8" x2="140.9" y2="532.8" stroke="#333" stroke-width="0.5"/><text x="142.0" y="535.2" class="cb" textLength="14.4" lengthAdjust="spacingAndGlyphs">0.002</text><line x1="139.9" y1="548.2" x2="140.9" y2="548.2" stroke="#333" stroke-width="0.5"/><text x="142.0" y="550.6" class="cb" textLength="14.4" lengthAdjust="spacingAndGlyphs">0.001</text><line x1="184.5" y1="572.5" x2="294.5" y2="460.7" stroke="#999" stroke-width="0.65"/><clipPath id="c8"><rect x="184.50" y="460.70" width="110.00" height="111.80"/></clipPath><g clip-path="url(#c8)" stroke-width="1.45" stroke-linecap="round" fill="none"><path stroke="#ff0029" d="M281.5 480.3h0M270.8 489.4h0M250.3 482.4h0M272.7 469.5h0M255.5 501.9h0M251.5 485.5h0M249.2 502.2h0M219.0 519.7h0M207.4 529.4h0M202.5 535.0h0M227.7 520.6h0M222.5 517.0h0M214.7 547.8h0M231.2 513.6h0M237.4 519.6h0M242.3 518.4h0M226.2 524.1h0M226.9 540.0h0M215.8 537.2h0M219.4 527.8h0M194.8 548.7h0M266.8 499.7h0M267.2 497.0h0M198.6 540.8h0M215.3 528.4h0M200.8 539.2h0M227.6 527.2h0M230.7 530.5h0M198.9 565.1h0M207.7 523.8h0M206.9 526.1h0M230.2 528.0h0M231.7 524.2h0M216.0 524.7h0M216.6 531.2h0M222.4 523.4h0M234.4 529.0h0M218.3 525.2h0M197.7 547.7h0M220.3 524.1h0M248.9 513.2h0M248.8 511.1h0M213.2 538.7h0M209.8 535.7h0M213.7 532.5h0M208.3 537.2h0M214.4 530.7h0M214.0 540.4h0M218.6 533.8h0M207.8 552.7h0M185.4 564.2h0M223.7 528.5h0M222.1 529.1h0M192.3 552.0h0M216.9 542.6h0M224.2 538.4h0M212.7 544.3h0M259.1 503.7h0M258.9 502.1h0M245.6 511.5h0M244.0 511.5h0M219.9 538.4h0M197.8 544.7h0M234.2 524.1h0M235.6 525.2h0M190.3 571.9h0M220.7 533.5h0M203.1 544.0h0M225.5 535.7h0M220.1 534.7h0M214.9 543.1h0M200.6 560.4h0M224.4 535.8h0M216.0 543.9h0M230.9 507.1h0M230.3 508.2h0M207.7 547.9h0M209.9 551.5h0M204.8 558.0h0M209.5 541.1h0M210.5 539.1h0M210.6 550.8h0M210.1 544.3h0M193.9 551.6h0M201.9 544.9h0M204.0 558.4h0M206.9 546.1h0M246.4 507.2h0M247.2 507.4h0M212.7 541.7h0M212.3 542.4h0M207.0 534.6h0M207.4 535.0h0M194.2 553.6h0M210.5 543.1h0M207.1 539.3h0M233.6 525.5h0M206.4 540.0h0M207.5 540.3h0M234.5 525.8h0M223.1 537.0h0M211.0 543.5h0M194.9 551.9h0M232.7 527.2h0M233.2 527.3h0M210.6 540.7h0M205.6 544.2h0M201.5 548.4h0M193.8 567.5h0M222.3 537.4h0M203.5 547.3h0M209.5 549.5h0M202.5 546.1h0M221.6 536.3h0M202.4 546.7h0M210.1 540.1h0M206.1 542.1h0M189.0 560.1h0M195.4 552.8h0M206.4 543.2h0M210.4 548.8h0M204.8 547.1h0M206.3 549.1h0M205.5 548.9h0M199.1 562.6h0M199.9 544.9h0M205.3 554.3h0M204.8 555.4h0M204.8 545.8h0M205.8 543.5h0M210.1 548.0h0M203.8 541.6h0M220.9 536.8h0M200.8 546.4h0M200.6 553.6h0M199.6 548.4h0M190.9 558.9h0M193.8 554.7h0M205.8 545.8h0M204.6 542.5h0M202.9 542.3h0M199.2 545.3h0M204.1 549.4h0M205.3 542.1h0M208.7 548.9h0M211.7 546.0h0M207.1 550.3h0M202.6 541.5h0M200.8 545.9h0M203.5 556.9h0M202.1 552.6h0M201.9 553.9h0M211.7 547.4h0M201.7 551.9h0M202.1 553.0h0M205.3 546.1h0M194.3 566.7h0M198.7 550.3h0M202.7 541.8h0M204.3 542.2h0M204.3 548.1h0M210.8 547.9h0M199.9 546.2h0M200.3 551.9h0M203.6 553.9h0M198.0 553.8h0M206.1 552.7h0M190.5 559.5h0M207.5 549.9h0M198.0 552.6h0M196.3 552.3h0M201.0 554.8h0M208.2 549.5h0M193.6 555.1h0M208.3 549.3h0M199.7 545.6h0M202.9 554.4h0M203.6 552.1h0M199.7 552.0h0M194.7 566.0h0M203.3 551.7h0M202.4 548.8h0M201.7 558.7h0M199.7 552.3h0M206.2 550.1h0M199.7 555.3h0M200.0 554.7h0M197.5 552.9h0M205.1 553.6h0M197.8 555.5h0M201.5 551.1h0M202.5 554.9h0M210.8 546.8h0M211.2 546.5h0M199.9 548.8h0M203.2 555.6h0M199.3 552.8h0M191.4 557.8h0M202.4 557.3h0M200.9 558.5h0M198.9 562.0h0M192.4 556.0h0M196.7 552.8h0M196.2 554.5h0M202.9 555.2h0M196.7 554.8h0M205.8 551.8h0M193.8 555.7h0M196.8 553.1h0M203.1 550.5h0M203.3 550.3h0M200.8 555.6h0M196.9 555.4h0M188.9 562.3h0M204.4 553.4h0M202.7 556.5h0M199.5 550.6h0M205.6 550.3h0M204.8 552.7h0M204.2 550.5h0M204.7 551.6h0M189.2 561.8h0M202.0 550.5h0M202.6 556.1h0M202.1 556.1h0M204.1 551.2h0M205.2 550.2h0M196.1 554.9h0M204.6 553.1h0M189.3 561.2h0M202.0 557.6h0M199.2 553.9h0M197.9 556.1h0M199.4 553.7h0M199.5 553.8h0M193.3 556.1h0M201.6 550.3h0M205.5 551.1h0M194.4 556.7h0M199.6 549.2h0M191.6 557.6h0M202.7 549.5h0M204.9 550.7h0M202.0 549.5h0M200.9 550.1h0M195.9 564.7h0M205.5 551.3h0M197.7 556.0h0M202.3 550.2h0M200.6 549.7h0M195.4 555.2h0M195.5 555.3h0M199.9 550.3h0M191.8 557.1h0M199.6 556.0h0M198.9 560.3h0M192.9 556.4h0M194.8 556.0h0M199.6 549.9h0M199.9 549.5h0M200.5 550.1h0M198.8 561.0h0M189.9 560.7h0M193.8 566.2h0M185.1 567.7h0M197.0 563.2h0M197.0 563.3h0M199.7 558.5h0M190.5 569.8h0M199.6 556.3h0M199.5 558.8h0M192.4 556.7h0M201.3 556.7h0M191.5 559.9h0M198.8 556.9h0M194.8 564.8h0M201.3 557.0h0M189.1 562.9h0M195.2 556.8h0M199.8 558.1h0M195.3 556.0h0M195.8 556.0h0M197.0 557.7h0M193.3 557.6h0M200.8 557.6h0M200.8 556.6h0M196.2 557.9h0M199.0 559.4h0M192.3 557.2h0M200.7 557.6h0M190.7 560.7h0M193.5 557.8h0M200.7 556.5h0M195.3 557.0h0M199.9 556.5h0M197.1 556.6h0M189.9 561.4h0M195.4 557.4h0M185.9 566.6h0M199.4 558.2h0M199.4 557.2h0M200.7 557.2h0M196.3 557.4h0M197.2 562.5h0M192.2 559.5h0M199.9 556.9h0M196.5 556.8h0M192.8 557.6h0M198.8 557.3h0M196.5 556.7h0M196.8 556.8h0M192.7 558.0h0M194.3 565.1h0M197.6 562.0h0M188.1 563.5h0M198.1 557.2h0M191.0 560.6h0M198.3 559.3h0M197.6 557.5h0M190.4 561.0h0M197.6 557.8h0M194.6 558.0h0M195.6 558.4h0M198.6 558.9h0M198.3 561.4h0M198.4 561.2h0M198.0 559.0h0M193.2 558.3h0M197.4 559.7h0M198.4 557.6h0M191.4 560.6h0M188.6 563.2h0M192.9 558.9h0M195.2 559.1h0M191.1 560.8h0M196.9 559.6h0M195.4 559.0h0M193.3 566.1h0M192.8 566.7h0M194.9 558.2h0M198.0 558.0h0M193.8 558.9h0M196.0 559.7h0M198.3 558.0h0M187.1 565.2h0M196.7 559.5h0M197.0 559.9h0M197.8 561.5h0M198.0 560.8h0M196.0 560.4h0M188.5 563.5h0M193.4 558.7h0M197.9 560.6h0M197.4 560.3h0M194.3 560.2h0M190.4 561.5h0M192.7 559.5h0M196.9 560.3h0M192.2 560.4h0M195.4 564.0h0M197.7 560.9h0M195.3 560.9h0M195.2 560.7h0M195.1 560.8h0M190.0 562.2h0M195.9 563.8h0M197.4 561.5h0M196.5 562.4h0M187.5 564.8h0M193.6 559.2h0M193.7 559.3h0M192.0 567.8h0M196.5 560.8h0M192.3 560.2h0M197.1 561.2h0M188.9 563.5h0M193.1 559.6h0M191.5 561.4h0M197.0 561.6h0M192.2 561.1h0M192.5 560.4h0M196.3 562.1h0M194.2 564.6h0M196.4 561.3h0M194.5 560.9h0M196.0 561.2h0M196.0 561.3h0M193.9 560.4h0M193.8 560.2h0M190.7 562.2h0M194.3 564.0h0M196.0 563.4h0M193.9 564.8h0M194.1 560.8h0M192.4 561.4h0M196.0 562.1h0M195.8 562.3h0M195.3 561.5h0M193.2 560.3h0M191.6 567.8h0M193.7 565.1h0M195.7 561.8h0M193.3 560.2h0M190.6 562.5h0M188.9 563.9h0M190.0 563.5h0M188.4 564.1h0M193.0 561.1h0M190.7 563.1h0M195.3 563.4h0M193.5 560.7h0M189.4 563.9h0M195.0 563.4h0M190.3 563.5h0M194.9 561.9h0M192.0 567.0h0M192.0 562.0h0M195.3 563.2h0M193.7 561.0h0M194.4 561.5h0M191.3 562.2h0M191.2 562.7h0"/><path stroke="#ff000e" d="M192.6 562.2h0M193.9 564.0h0M193.1 565.3h0M191.0 563.1h0M191.6 567.4h0M193.2 561.5h0M191.7 562.6h0M190.8 568.5h0M191.3 563.1h0M191.9 562.8h0M195.0 562.9h0M194.1 563.4h0M194.9 562.6h0M193.6 561.5h0M191.2 563.5h0M190.0 569.8h0M187.3 565.5h0M194.4 562.0h0M190.5 568.9h0M192.7 562.7h0M191.0 563.8h0M193.2 562.4h0M194.3 562.4h0M189.3 570.2h0M185.5 568.1h0M192.9 562.8h0M194.0 563.1h0M193.8 562.0h0M193.6 562.1h0M193.4 564.7h0M192.1 563.4h0M192.1 566.4h0M193.9 562.5h0M193.7 562.6h0M190.6 564.1h0M193.4 563.3h0M191.6 566.9h0M192.8 565.1h0M192.3 565.9h0M186.2 567.4h0M191.7 564.2h0M192.5 563.5h0M191.2 567.5h0M191.9 566.2h0M189.8 569.7h0M192.8 563.6h0M191.5 564.3h0M189.9 564.2h0M186.6 566.9h0M187.6 572.1h0M192.3 565.4h0M192.1 564.1h0M187.2 566.4h0M192.5 565.2h0"/><path stroke="#ff1200" d="M192.8 564.4h0M192.9 564.0h0M189.0 570.2h0M192.1 564.5h0M192.3 564.2h0M192.6 564.3h0M185.4 568.7h0M192.0 565.1h0M188.5 564.7h0M188.2 565.2h0M191.8 565.7h0M191.1 564.7h0M189.1 564.5h0M191.4 566.4h0M189.3 564.6h0M190.5 564.7h0M191.1 565.1h0M186.2 567.8h0M191.3 565.2h0M187.9 571.6h0M191.3 565.8h0M191.4 565.6h0"/><path stroke="#ff3300" d="M190.8 566.9h0M189.8 564.7h0M187.7 566.0h0M190.9 565.3h0M185.3 569.0h0M190.8 566.3h0M190.9 566.0h0M188.6 565.1h0M186.6 567.3h0M190.4 565.2h0M188.5 570.8h0M189.8 565.1h0"/><path stroke="#ff5300" d="M190.3 565.6h0M189.5 565.0h0M190.5 567.8h0M185.1 569.6h0M189.4 569.6h0M190.3 566.0h0M190.4 567.5h0M188.2 565.7h0M190.3 566.6h0M190.3 567.0h0"/><path stroke="#ff7300" d="M187.0 567.2h0M189.1 565.2h0M189.9 565.7h0M188.5 565.7h0"/><path stroke="#ff9400" d="M189.9 566.1h0M189.1 565.7h0M189.8 568.4h0M187.0 571.8h0"/><path stroke="#ffb400" d="M188.1 566.2h0M187.3 571.5h0M189.3 565.7h0M189.8 566.6h0M189.9 566.8h0"/><path stroke="#ffd500" d="M189.8 567.9h0M189.8 567.6h0M186.5 568.1h0"/><path stroke="#fff500" d="M189.4 566.2h0M187.2 567.5h0M188.0 570.9h0M188.6 566.2h0M189.5 568.8h0M189.1 566.2h0"/><path stroke="#e8ff00" d="M188.1 566.7h0M187.8 567.1h0M188.7 566.5h0"/><path stroke="#cdff00" d="M185.7 569.5h0M189.3 566.7h0M187.5 567.2h0"/><path stroke="#adff00" d="M189.4 567.0h0M189.0 569.3h0M188.8 566.7h0M189.4 568.4h0M185.2 570.2h0"/><path stroke="#8dff00" d="M186.7 571.9h0M189.3 567.7h0M189.3 567.9h0"/><path stroke="#6cff00" d="M188.4 569.9h0M188.7 567.1h0M186.7 568.7h0M189.0 567.2h0M185.9 572.3h0"/><path stroke="#2bff00" d="M188.0 570.4h0M185.1 570.6h0"/><path stroke="#0bff00" d="M186.1 569.2h0M188.8 568.8h0M187.5 567.7h0M184.7 571.1h0M188.9 567.5h0"/><path stroke="#00ff16" d="M184.7 572.3h0M185.3 572.3h0M185.1 572.3h0M187.1 568.2h0"/><path stroke="#00ff36" d="M187.3 570.8h0M186.9 571.4h0M189.0 568.1h0M189.0 568.3h0"/><path stroke="#00ff56" d="M188.7 567.7h0M188.4 569.4h0M188.2 567.7h0M184.7 571.9h0M184.7 571.6h0"/><path stroke="#00ff91" d="M186.1 569.6h0M185.9 571.9h0"/><path stroke="#00ffb1" d="M185.2 571.8h0M185.1 571.0h0M186.9 568.7h0M188.2 568.1h0M185.6 570.2h0"/><path stroke="#00ffd2" d="M188.0 569.8h0M185.7 571.8h0M187.7 568.2h0M185.1 571.4h0"/><path stroke="#00fff2" d="M188.3 568.9h0M188.3 568.2h0M188.4 568.6h0"/><path stroke="#00aaff" d="M186.7 569.2h0M187.4 570.3h0M186.3 571.3h0"/><path stroke="#008aff" d="M188.0 569.3h0M187.4 568.7h0M187.8 568.7h0"/><path stroke="#0069ff" d="M187.9 569.1h0M186.8 570.8h0M185.7 571.3h0M185.6 570.7h0"/><path stroke="#0049ff" d="M185.7 571.0h0M185.9 571.4h0"/><path stroke="#0028ff" d="M187.6 569.2h0"/><path stroke="#1400ff" d="M187.4 569.9h0M187.1 569.2h0M187.3 569.7h0"/><path stroke="#3400ff" d="M186.2 570.2h0"/><path stroke="#5500ff" d="M186.5 569.7h0"/><path stroke="#7600ff" d="M186.3 570.9h0M186.0 570.9h0M186.0 570.5h0"/><path stroke="#9600ff" d="M186.8 570.4h0M186.8 569.7h0"/><path stroke="#b700ff" d="M186.9 570.1h0M186.7 570.2h0M186.6 570.4h0"/></g><line x1="184.5" y1="572.5" x2="294.5" y2="460.7" stroke="#5c5ce8" stroke-width="0.65"/><rect x="184.5" y="460.7" width="110.0" height="111.8" fill="none" stroke="#333" stroke-width="0.9"/><line x1="184.5" y1="572.5" x2="184.5" y2="573.7" stroke="#333" stroke-width="0.6"/><line x1="183.3" y1="572.5" x2="184.5" y2="572.5" stroke="#333" stroke-width="0.6"/><text x="184.5" y="579.6" text-anchor="middle" class="tk">0</text><text x="182.5" y="574.8" text-anchor="end" class="tk">0</text><line x1="212.0" y1="572.5" x2="212.0" y2="573.7" stroke="#333" stroke-width="0.6"/><line x1="183.3" y1="544.5" x2="184.5" y2="544.5" stroke="#333" stroke-width="0.6"/><text x="212.0" y="579.6" text-anchor="middle" class="tk">1000</text><text x="182.5" y="546.8" text-anchor="end" class="tk">1000</text><line x1="239.5" y1="572.5" x2="239.5" y2="573.7" stroke="#333" stroke-width="0.6"/><line x1="183.3" y1="516.6" x2="184.5" y2="516.6" stroke="#333" stroke-width="0.6"/><text x="239.5" y="579.6" text-anchor="middle" class="tk">2000</text><text x="182.5" y="518.9" text-anchor="end" class="tk">2000</text><line x1="267.0" y1="572.5" x2="267.0" y2="573.7" stroke="#333" stroke-width="0.6"/><line x1="183.3" y1="488.6" x2="184.5" y2="488.6" stroke="#333" stroke-width="0.6"/><text x="267.0" y="579.6" text-anchor="middle" class="tk">3000</text><text x="182.5" y="490.9" text-anchor="end" class="tk">3000</text><line x1="294.5" y1="572.5" x2="294.5" y2="573.7" stroke="#333" stroke-width="0.6"/><line x1="183.3" y1="460.7" x2="184.5" y2="460.7" stroke="#333" stroke-width="0.6"/><text x="294.5" y="579.6" text-anchor="middle" class="tk">4000</text><text x="182.5" y="463.0" text-anchor="end" class="tk">4000</text><text x="239.5" y="585.0" text-anchor="middle" class="al">Q<tspan font-size="3.4" dy="0.9">o</tspan><tspan dy="-0.9"> (m</tspan><tspan font-size="3.4" dy="-1.2">3</tspan><tspan dy="1.2">/s)</tspan></text><text transform="translate(167.7 516.6) rotate(-90)" text-anchor="middle" class="al">Q<tspan font-size="3.4" dy="0.9">s</tspan><tspan dy="-0.9"> (m</tspan><tspan font-size="3.4" dy="-1.2">3</tspan><tspan dy="1.2">/s)</tspan></text><linearGradient id="g7" x1="0" y1="0" x2="0" y2="1"><stop offset="0.000" stop-color="#ff00bf"/><stop offset="0.050" stop-color="#fe00ff"/><stop offset="0.100" stop-color="#b700ff"/><stop offset="0.150" stop-color="#7000ff"/><stop offset="0.200" stop-color="#2a00ff"/><stop offset="0.250" stop-color="#0018ff"/><stop offset="0.300" stop-color="#005eff"/><stop offset="0.350" stop-color="#00a5ff"/><stop offset="0.400" stop-color="#00ecff"/><stop offset="0.450" stop-color="#00ffcc"/><stop offset="0.500" stop-color="#00ff8c"/><stop offset="0.550" stop-color="#00ff46"/><stop offset="0.600" stop-color="#00ff00"/><stop offset="0.650" stop-color="#46ff00"/><stop offset="0.700" stop-color="#8dff00"/><stop offset="0.750" stop-color="#cdff00"/><stop offset="0.800" stop-color="#ffea00"/><stop offset="0.850" stop-color="#ffa400"/><stop offset="0.900" stop-color="#ff5e00"/><stop offset="0.950" stop-color="#ff1800"/><stop offset="1.000" stop-color="#ff0029"/></linearGradient><path d="M298.25 463.30L299.50 468.15L299.50 565.15L298.25 570.00L297.00 565.15L297.00 468.15Z" fill="url(#g7)"/><line x1="299.5" y1="469.3" x2="300.5" y2="469.3" stroke="#333" stroke-width="0.5"/><text x="301.6" y="471.7" class="cb" textLength="14.4" lengthAdjust="spacingAndGlyphs">0.005</text><line x1="299.5" y1="488.7" x2="300.5" y2="488.7" stroke="#333" stroke-width="0.5"/><text x="301.6" y="491.1" class="cb" textLength="14.4" lengthAdjust="spacingAndGlyphs">0.004</text><line x1="299.5" y1="507.6" x2="300.5" y2="507.6" stroke="#333" stroke-width="0.5"/><text x="301.6" y="510.0" class="cb" textLength="14.4" lengthAdjust="spacingAndGlyphs">0.003</text><line x1="299.5" y1="526.8" x2="300.5" y2="526.8" stroke="#333" stroke-width="0.5"/><text x="301.6" y="529.2" class="cb" textLength="14.4" lengthAdjust="spacingAndGlyphs">0.002</text><line x1="299.5" y1="546.3" x2="300.5" y2="546.3" stroke="#333" stroke-width="0.5"/><text x="301.6" y="548.7" class="cb" textLength="14.4" lengthAdjust="spacingAndGlyphs">0.001</text>
<text x="45.6" y="10.8" class="ti t1" textLength="72.3" lengthAdjust="spacingAndGlyphs">Training period</text>
<text x="206.3" y="11.5" class="ti t1" textLength="51" lengthAdjust="spacingAndGlyphs">Test period</text>
<text x="125.2" y="155.8" class="ti" textLength="67.9" lengthAdjust="spacingAndGlyphs">(a) EDL model</text>
<text x="124.2" y="303.5" class="ti" textLength="67.3" lengthAdjust="spacingAndGlyphs">(b) XAJ model</text>
<text x="123.2" y="451" class="ti" textLength="75.9" lengthAdjust="spacingAndGlyphs">(c) LSTM model</text>
<text x="109.3" y="598.6" class="ti" textLength="101.6" lengthAdjust="spacingAndGlyphs">(d) XAJ-LSTM model</text>

</svg></body></html>
